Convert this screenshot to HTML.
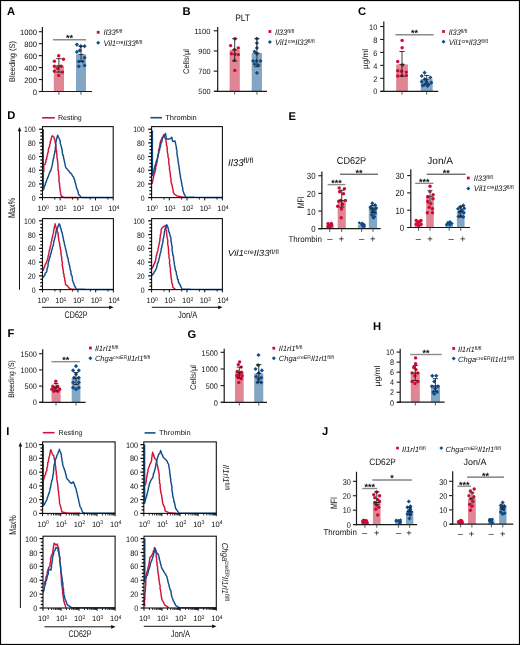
<!DOCTYPE html>
<html><head><meta charset="utf-8"><style>
html,body{margin:0;padding:0;background:#fff;}
svg{display:block;font-family:"Liberation Sans", sans-serif;filter:blur(0.3px);text-rendering:geometricPrecision;}
</style></head><body>
<svg width="520" height="645" viewBox="0 0 520 645">
<rect x="0" y="0" width="520" height="645" fill="#fff"/>
<text x="7" y="15.2" font-size="11.2" text-anchor="start" font-weight="bold" font-style="normal" fill="#000" >A</text>
<rect x="53.8" y="65.79" width="10.2" height="25.71" fill="#e08594"/>
<rect x="76" y="54.42" width="10" height="37.08" fill="#83a6c5"/>
<circle cx="58.7" cy="55.8" r="1.7" fill="#cf0a35"/>
<circle cx="54.4" cy="61.2" r="1.7" fill="#cf0a35"/>
<circle cx="63.5" cy="59.2" r="1.7" fill="#cf0a35"/>
<circle cx="54.4" cy="66.3" r="1.7" fill="#cf0a35"/>
<circle cx="61.2" cy="66.3" r="1.7" fill="#cf0a35"/>
<circle cx="57.7" cy="68.3" r="1.7" fill="#cf0a35"/>
<circle cx="54.4" cy="71.2" r="1.7" fill="#cf0a35"/>
<circle cx="62.5" cy="72.1" r="1.7" fill="#cf0a35"/>
<circle cx="58.7" cy="75.4" r="1.7" fill="#cf0a35"/>
<path d="M76.9 42.5L79 44.6L76.9 46.7L74.8 44.6Z" fill="#0f4c8c"/>
<path d="M80.8 44.1L82.9 46.2L80.8 48.3L78.7 46.2Z" fill="#0f4c8c"/>
<path d="M84.6 44.1L86.7 46.2L84.6 48.3L82.5 46.2Z" fill="#0f4c8c"/>
<path d="M76.9 49.8L79 51.9L76.9 54L74.8 51.9Z" fill="#0f4c8c"/>
<path d="M79.8 48.3L81.9 50.4L79.8 52.5L77.7 50.4Z" fill="#0f4c8c"/>
<path d="M84.6 55.6L86.7 57.7L84.6 59.8L82.5 57.7Z" fill="#0f4c8c"/>
<path d="M78.8 59.4L80.9 61.5L78.8 63.6L76.7 61.5Z" fill="#0f4c8c"/>
<path d="M82.7 59.4L84.8 61.5L82.7 63.6L80.6 61.5Z" fill="#0f4c8c"/>
<path d="M78.8 64.2L80.9 66.3L78.8 68.4L76.7 66.3Z" fill="#0f4c8c"/>
<path d="M84.6 63.3L86.7 65.4L84.6 67.5L82.5 65.4Z" fill="#0f4c8c"/>
<line x1="58.9" y1="58.6" x2="58.9" y2="72.1" stroke="#222" stroke-width="0.9"/>
<line x1="56.3" y1="58.6" x2="61.5" y2="58.6" stroke="#222" stroke-width="0.9"/>
<line x1="56.3" y1="72.1" x2="61.5" y2="72.1" stroke="#222" stroke-width="0.9"/>
<line x1="56.3" y1="65.79" x2="61.5" y2="65.79" stroke="#222" stroke-width="0.9"/>
<line x1="81" y1="46.2" x2="81" y2="61.5" stroke="#222" stroke-width="0.9"/>
<line x1="78.4" y1="46.2" x2="83.6" y2="46.2" stroke="#222" stroke-width="0.9"/>
<line x1="78.4" y1="61.5" x2="83.6" y2="61.5" stroke="#222" stroke-width="0.9"/>
<line x1="78.4" y1="54.42" x2="83.6" y2="54.42" stroke="#222" stroke-width="0.9"/>
<line x1="42.4" y1="27" x2="42.4" y2="92.1" stroke="#1a1a1a" stroke-width="1.2"/>
<line x1="38.8" y1="91.5" x2="42.4" y2="91.5" stroke="#1a1a1a" stroke-width="1.1"/>
<text x="36.9" y="94.61" font-size="7.8" text-anchor="end" font-weight="normal" font-style="normal" fill="#111" textLength="4.25" lengthAdjust="spacingAndGlyphs" >0</text>
<line x1="38.8" y1="79.54" x2="42.4" y2="79.54" stroke="#1a1a1a" stroke-width="1.1"/>
<text x="36.9" y="82.65" font-size="7.8" text-anchor="end" font-weight="normal" font-style="normal" fill="#111" textLength="12.75" lengthAdjust="spacingAndGlyphs" >200</text>
<line x1="38.8" y1="67.58" x2="42.4" y2="67.58" stroke="#1a1a1a" stroke-width="1.1"/>
<text x="36.9" y="70.69" font-size="7.8" text-anchor="end" font-weight="normal" font-style="normal" fill="#111" textLength="12.75" lengthAdjust="spacingAndGlyphs" >400</text>
<line x1="38.8" y1="55.62" x2="42.4" y2="55.62" stroke="#1a1a1a" stroke-width="1.1"/>
<text x="36.9" y="58.73" font-size="7.8" text-anchor="end" font-weight="normal" font-style="normal" fill="#111" textLength="12.75" lengthAdjust="spacingAndGlyphs" >600</text>
<line x1="38.8" y1="43.66" x2="42.4" y2="43.66" stroke="#1a1a1a" stroke-width="1.1"/>
<text x="36.9" y="46.77" font-size="7.8" text-anchor="end" font-weight="normal" font-style="normal" fill="#111" textLength="12.75" lengthAdjust="spacingAndGlyphs" >800</text>
<line x1="38.8" y1="31.7" x2="42.4" y2="31.7" stroke="#1a1a1a" stroke-width="1.1"/>
<text x="36.9" y="34.81" font-size="7.8" text-anchor="end" font-weight="normal" font-style="normal" fill="#111" textLength="17" lengthAdjust="spacingAndGlyphs" >1000</text>
<line x1="39.4" y1="91.5" x2="92" y2="91.5" stroke="#1a1a1a" stroke-width="1.2"/>
<line x1="58.9" y1="91.5" x2="58.9" y2="94.7" stroke="#444" stroke-width="0.9"/>
<line x1="81" y1="91.5" x2="81" y2="94.7" stroke="#444" stroke-width="0.9"/>
<line x1="52.9" y1="39.8" x2="86" y2="39.8" stroke="#8c8c8c" stroke-width="1.4"/>
<text x="69.45" y="41.2" font-size="9" text-anchor="middle" font-weight="bold" font-style="normal" fill="#111" >**</text>
<text x="12.2" y="64.37" font-size="8.2" text-anchor="middle" font-weight="normal" font-style="normal" fill="#111" textLength="41" lengthAdjust="spacingAndGlyphs" transform="rotate(-90 12.2 61.5)">Bleeding (S)</text>
<rect x="96.8" y="30.9" width="2.8" height="2.8" fill="#cf0a35"/>
<path d="M98.2 40.8L100.2 42.8L98.2 44.8L96.2 42.8Z" fill="#0f4c8c"/>
<text x="103.5" y="35.45" font-size="8" text-anchor="start" font-style="italic" fill="#111" textLength="19" lengthAdjust="spacingAndGlyphs" ><tspan>Il33</tspan><tspan dy="-2" font-size="5.44" font-style="normal">fl/fl</tspan></text>
<text x="103.5" y="45.8" font-size="8" text-anchor="start" font-style="italic" fill="#111" textLength="38.8" lengthAdjust="spacingAndGlyphs" ><tspan>Vil1</tspan><tspan dy="-2" font-size="5.44" font-style="normal">cre</tspan><tspan dy="2" font-size="8">Il33</tspan><tspan dy="-2" font-size="5.44" font-style="normal">fl/fl</tspan></text>
<text x="182.5" y="15.2" font-size="11.2" text-anchor="start" font-weight="bold" font-style="normal" fill="#000" >B</text>
<text x="242.6" y="21" font-size="9.4" text-anchor="middle" font-weight="normal" font-style="normal" fill="#111" textLength="14.8" lengthAdjust="spacingAndGlyphs" >PLT</text>
<rect x="229.6" y="49.8" width="10.2" height="41.5" fill="#e08594"/>
<rect x="251.7" y="53" width="10.3" height="38.3" fill="#83a6c5"/>
<circle cx="235" cy="38.7" r="1.7" fill="#cf0a35"/>
<circle cx="230.6" cy="45.6" r="1.7" fill="#cf0a35"/>
<circle cx="238.3" cy="47.9" r="1.7" fill="#cf0a35"/>
<circle cx="234.4" cy="49.8" r="1.7" fill="#cf0a35"/>
<circle cx="231.5" cy="53.7" r="1.7" fill="#cf0a35"/>
<circle cx="235" cy="54.2" r="1.7" fill="#cf0a35"/>
<circle cx="238.3" cy="54.6" r="1.7" fill="#cf0a35"/>
<circle cx="234.4" cy="60.4" r="1.7" fill="#cf0a35"/>
<circle cx="234.8" cy="70.4" r="1.7" fill="#cf0a35"/>
<path d="M256.9 36.6L259 38.7L256.9 40.8L254.8 38.7Z" fill="#0f4c8c"/>
<path d="M256.9 41L259 43.1L256.9 45.2L254.8 43.1Z" fill="#0f4c8c"/>
<path d="M256.9 45.8L259 47.9L256.9 50L254.8 47.9Z" fill="#0f4c8c"/>
<path d="M254.6 49.6L256.7 51.7L254.6 53.8L252.5 51.7Z" fill="#0f4c8c"/>
<path d="M256.9 51.6L259 53.7L256.9 55.8L254.8 53.7Z" fill="#0f4c8c"/>
<path d="M253.1 58.9L255.2 61L253.1 63.1L251 61Z" fill="#0f4c8c"/>
<path d="M256.5 58.9L258.6 61L256.5 63.1L254.4 61Z" fill="#0f4c8c"/>
<path d="M260.4 58.9L262.5 61L260.4 63.1L258.3 61Z" fill="#0f4c8c"/>
<path d="M254.6 62.1L256.7 64.2L254.6 66.3L252.5 64.2Z" fill="#0f4c8c"/>
<path d="M258.5 63.1L260.6 65.2L258.5 67.3L256.4 65.2Z" fill="#0f4c8c"/>
<path d="M256.9 70.8L259 72.9L256.9 75L254.8 72.9Z" fill="#0f4c8c"/>
<line x1="234.7" y1="38.7" x2="234.7" y2="61" stroke="#222" stroke-width="0.9"/>
<line x1="232.1" y1="38.7" x2="237.3" y2="38.7" stroke="#222" stroke-width="0.9"/>
<line x1="232.1" y1="61" x2="237.3" y2="61" stroke="#222" stroke-width="0.9"/>
<line x1="232.1" y1="49.8" x2="237.3" y2="49.8" stroke="#222" stroke-width="0.9"/>
<line x1="256.9" y1="38.7" x2="256.9" y2="66.7" stroke="#222" stroke-width="0.9"/>
<line x1="254.3" y1="38.7" x2="259.5" y2="38.7" stroke="#222" stroke-width="0.9"/>
<line x1="254.3" y1="66.7" x2="259.5" y2="66.7" stroke="#222" stroke-width="0.9"/>
<line x1="254.3" y1="53" x2="259.5" y2="53" stroke="#222" stroke-width="0.9"/>
<line x1="217.7" y1="27" x2="217.7" y2="91.9" stroke="#1a1a1a" stroke-width="1.2"/>
<line x1="213.7" y1="91.3" x2="217.7" y2="91.3" stroke="#1a1a1a" stroke-width="1.1"/>
<text x="210.6" y="94.34" font-size="7.6" text-anchor="end" font-weight="normal" font-style="normal" fill="#111" textLength="12.3" lengthAdjust="spacingAndGlyphs" >500</text>
<line x1="213.7" y1="71.13" x2="217.7" y2="71.13" stroke="#1a1a1a" stroke-width="1.1"/>
<text x="210.6" y="74.17" font-size="7.6" text-anchor="end" font-weight="normal" font-style="normal" fill="#111" textLength="12.3" lengthAdjust="spacingAndGlyphs" >700</text>
<line x1="213.7" y1="50.97" x2="217.7" y2="50.97" stroke="#1a1a1a" stroke-width="1.1"/>
<text x="210.6" y="54" font-size="7.6" text-anchor="end" font-weight="normal" font-style="normal" fill="#111" textLength="12.3" lengthAdjust="spacingAndGlyphs" >900</text>
<line x1="213.7" y1="30.8" x2="217.7" y2="30.8" stroke="#1a1a1a" stroke-width="1.1"/>
<text x="210.6" y="33.84" font-size="7.6" text-anchor="end" font-weight="normal" font-style="normal" fill="#111" textLength="16.4" lengthAdjust="spacingAndGlyphs" >1100</text>
<line x1="214.5" y1="91.3" x2="267" y2="91.3" stroke="#1a1a1a" stroke-width="1.2"/>
<line x1="234.7" y1="91.3" x2="234.7" y2="94.5" stroke="#444" stroke-width="0.9"/>
<line x1="256.9" y1="91.3" x2="256.9" y2="94.5" stroke="#444" stroke-width="0.9"/>
<text x="186" y="64.37" font-size="8.2" text-anchor="middle" font-weight="normal" font-style="normal" fill="#111" textLength="25" lengthAdjust="spacingAndGlyphs" transform="rotate(-90 186 61.5)">Cells/µl</text>
<rect x="268.5" y="30.1" width="2.8" height="2.8" fill="#cf0a35"/>
<path d="M269.9 40.1L271.9 42.1L269.9 44.1L267.9 42.1Z" fill="#0f4c8c"/>
<text x="275" y="34.65" font-size="8" text-anchor="start" font-style="italic" fill="#111" textLength="19" lengthAdjust="spacingAndGlyphs" ><tspan>Il33</tspan><tspan dy="-2" font-size="5.44" font-style="normal">fl/fl</tspan></text>
<text x="275" y="45.1" font-size="8" text-anchor="start" font-style="italic" fill="#111" textLength="39.6" lengthAdjust="spacingAndGlyphs" ><tspan>Vil1</tspan><tspan dy="-2" font-size="5.44" font-style="normal">cre</tspan><tspan dy="2" font-size="8">Il33</tspan><tspan dy="-2" font-size="5.44" font-style="normal">fl/fl</tspan></text>
<text x="358" y="15.2" font-size="11.2" text-anchor="start" font-weight="bold" font-style="normal" fill="#000" >C</text>
<rect x="396.2" y="64.4" width="11.7" height="26.9" fill="#e08594"/>
<rect x="420.8" y="79.2" width="11.9" height="12.1" fill="#83a6c5"/>
<circle cx="402.1" cy="40.4" r="1.7" fill="#cf0a35"/>
<circle cx="402.1" cy="47.7" r="1.7" fill="#cf0a35"/>
<circle cx="397.7" cy="61.5" r="1.7" fill="#cf0a35"/>
<circle cx="402.5" cy="65" r="1.7" fill="#cf0a35"/>
<circle cx="397.7" cy="70.8" r="1.7" fill="#cf0a35"/>
<circle cx="401.5" cy="71.2" r="1.7" fill="#cf0a35"/>
<circle cx="406.3" cy="72.1" r="1.7" fill="#cf0a35"/>
<circle cx="397.7" cy="76" r="1.7" fill="#cf0a35"/>
<circle cx="401.9" cy="75.6" r="1.7" fill="#cf0a35"/>
<circle cx="406.3" cy="75.6" r="1.7" fill="#cf0a35"/>
<path d="M424.6 70.6L426.7 72.7L424.6 74.8L422.5 72.7Z" fill="#0f4c8c"/>
<path d="M421.7 73.9L423.8 76L421.7 78.1L419.6 76Z" fill="#0f4c8c"/>
<path d="M430.4 75.4L432.5 77.5L430.4 79.6L428.3 77.5Z" fill="#0f4c8c"/>
<path d="M424.6 77.1L426.7 79.2L424.6 81.3L422.5 79.2Z" fill="#0f4c8c"/>
<path d="M421.7 79.6L423.8 81.7L421.7 83.8L419.6 81.7Z" fill="#0f4c8c"/>
<path d="M426.5 79.6L428.6 81.7L426.5 83.8L424.4 81.7Z" fill="#0f4c8c"/>
<path d="M431.3 80.6L433.4 82.7L431.3 84.8L429.2 82.7Z" fill="#0f4c8c"/>
<path d="M424.6 82.5L426.7 84.6L424.6 86.7L422.5 84.6Z" fill="#0f4c8c"/>
<path d="M428.5 82.5L430.6 84.6L428.5 86.7L426.4 84.6Z" fill="#0f4c8c"/>
<path d="M422.7 83.5L424.8 85.6L422.7 87.7L420.6 85.6Z" fill="#0f4c8c"/>
<path d="M427.5 83.9L429.6 86L427.5 88.1L425.4 86Z" fill="#0f4c8c"/>
<line x1="402" y1="51.5" x2="402" y2="76.3" stroke="#222" stroke-width="0.9"/>
<line x1="399.4" y1="51.5" x2="404.6" y2="51.5" stroke="#222" stroke-width="0.9"/>
<line x1="399.4" y1="76.3" x2="404.6" y2="76.3" stroke="#222" stroke-width="0.9"/>
<line x1="399.4" y1="64.4" x2="404.6" y2="64.4" stroke="#222" stroke-width="0.9"/>
<line x1="426.7" y1="75.4" x2="426.7" y2="84" stroke="#222" stroke-width="0.9"/>
<line x1="424.1" y1="75.4" x2="429.3" y2="75.4" stroke="#222" stroke-width="0.9"/>
<line x1="424.1" y1="84" x2="429.3" y2="84" stroke="#222" stroke-width="0.9"/>
<line x1="424.1" y1="79.2" x2="429.3" y2="79.2" stroke="#222" stroke-width="0.9"/>
<line x1="383.8" y1="21.5" x2="383.8" y2="91.9" stroke="#1a1a1a" stroke-width="1.2"/>
<line x1="380.2" y1="91.3" x2="383.8" y2="91.3" stroke="#1a1a1a" stroke-width="1.1"/>
<text x="377.3" y="94.48" font-size="8" text-anchor="end" font-weight="normal" font-style="normal" fill="#111" textLength="4.1" lengthAdjust="spacingAndGlyphs" >0</text>
<line x1="380.2" y1="78.34" x2="383.8" y2="78.34" stroke="#1a1a1a" stroke-width="1.1"/>
<text x="377.3" y="81.52" font-size="8" text-anchor="end" font-weight="normal" font-style="normal" fill="#111" textLength="4.1" lengthAdjust="spacingAndGlyphs" >2</text>
<line x1="380.2" y1="65.38" x2="383.8" y2="65.38" stroke="#1a1a1a" stroke-width="1.1"/>
<text x="377.3" y="68.56" font-size="8" text-anchor="end" font-weight="normal" font-style="normal" fill="#111" textLength="4.1" lengthAdjust="spacingAndGlyphs" >4</text>
<line x1="380.2" y1="52.42" x2="383.8" y2="52.42" stroke="#1a1a1a" stroke-width="1.1"/>
<text x="377.3" y="55.6" font-size="8" text-anchor="end" font-weight="normal" font-style="normal" fill="#111" textLength="4.1" lengthAdjust="spacingAndGlyphs" >6</text>
<line x1="380.2" y1="39.46" x2="383.8" y2="39.46" stroke="#1a1a1a" stroke-width="1.1"/>
<text x="377.3" y="42.64" font-size="8" text-anchor="end" font-weight="normal" font-style="normal" fill="#111" textLength="4.1" lengthAdjust="spacingAndGlyphs" >8</text>
<line x1="380.2" y1="26.5" x2="383.8" y2="26.5" stroke="#1a1a1a" stroke-width="1.1"/>
<text x="377.3" y="29.68" font-size="8" text-anchor="end" font-weight="normal" font-style="normal" fill="#111" textLength="8.2" lengthAdjust="spacingAndGlyphs" >10</text>
<line x1="380.4" y1="91.4" x2="438.3" y2="91.4" stroke="#1a1a1a" stroke-width="1.2"/>
<line x1="402" y1="91.4" x2="402" y2="94.6" stroke="#444" stroke-width="0.9"/>
<line x1="426.7" y1="91.4" x2="426.7" y2="94.6" stroke="#444" stroke-width="0.9"/>
<line x1="395.4" y1="34.8" x2="433.7" y2="34.8" stroke="#8c8c8c" stroke-width="1.4"/>
<text x="414.55" y="36.2" font-size="9" text-anchor="middle" font-weight="bold" font-style="normal" fill="#111" >**</text>
<text x="364.8" y="61.87" font-size="8.2" text-anchor="middle" font-weight="normal" font-style="normal" fill="#111" textLength="20" lengthAdjust="spacingAndGlyphs" transform="rotate(-90 364.8 59)">µg/ml</text>
<rect x="442.1" y="30.1" width="2.8" height="2.8" fill="#cf0a35"/>
<path d="M443.5 39.7L445.5 41.7L443.5 43.7L441.5 41.7Z" fill="#0f4c8c"/>
<text x="448.8" y="34.65" font-size="8" text-anchor="start" font-style="italic" fill="#111" textLength="18.5" lengthAdjust="spacingAndGlyphs" ><tspan>Il33</tspan><tspan dy="-2" font-size="5.44" font-style="normal">fl/fl</tspan></text>
<text x="448.8" y="44.7" font-size="8" text-anchor="start" font-style="italic" fill="#111" textLength="39" lengthAdjust="spacingAndGlyphs" ><tspan>Vil1</tspan><tspan dy="-2" font-size="5.44" font-style="normal">cre</tspan><tspan dy="2" font-size="8">Il33</tspan><tspan dy="-2" font-size="5.44" font-style="normal">fl/fl</tspan></text>
<text x="7.2" y="119.4" font-size="11.2" text-anchor="start" font-weight="bold" font-style="normal" fill="#000" >D</text>
<line x1="42.1" y1="117.8" x2="54.8" y2="117.8" stroke="#d2143c" stroke-width="1.6"/>
<text x="57.9" y="120" font-size="7.2" text-anchor="start" font-weight="normal" font-style="normal" fill="#111" textLength="23.9" lengthAdjust="spacingAndGlyphs" >Resting</text>
<line x1="150.4" y1="117.7" x2="162" y2="117.7" stroke="#104f8e" stroke-width="1.6"/>
<text x="165.2" y="119.9" font-size="7.3" text-anchor="start" font-weight="normal" font-style="normal" fill="#111" textLength="31.6" lengthAdjust="spacingAndGlyphs" >Thrombin</text>
<polyline points="43.8,172.3 43.8,170.9 43.8,169.5 43.8,168.1 43.8,166.7 43.8,165.3 45.3,164 45.58,162.46 46.01,160.95 46.02,159.49 46.57,159.38 46.85,157.84 46.89,156.37 47.44,155.45 47.65,153.04 48.16,152.53 48.3,151 48.39,150.16 48.74,147.9 49.08,147.6 49.6,146.43 49.63,144.61 50.23,143.7 50.26,141.66 50.6,140.67 51.07,140.18 51.2,138.2 51.93,136.43 52.4,135.8 54.2,137.6 54.39,139.28 55.11,140.43 55.03,141.93 55.68,144.33 55.9,145.2 55.88,146.24 56.08,148.03 56.1,149.55 56.62,150.71 56.44,152.37 56.61,152.75 56.95,155.34 56.9,156.25 56.95,157.51 57.35,158.86 57.47,160.48 57.61,161.11 57.7,163 57.98,164.93 58.08,165.93 57.92,166.25 58.04,167.75 58.04,169.91 58.43,170.89 58.6,171.73 58.51,173.84 58.61,174.39 58.99,175.94 58.91,177.72 59.18,178.39 58.92,179.74 59.06,182.05 59.32,182.62 59.64,183.99 59.5,185.3 59.91,186.84 59.7,187.6 60.29,189.82 60.21,190.79 60.48,192.02 60.64,193.71 60.99,194.66 61.2,196 62.4,196.7 63.6,197.4 64.99,197.42 66.38,197.44 67.77,197.45 69.16,197.47 70.55,197.49 71.95,197.51 73.34,197.53 74.73,197.55 76.12,197.56 77.51,197.58 78.9,197.6" fill="none" stroke="#d2143c" stroke-width="1.45" stroke-linejoin="round"/>
<polyline points="43.3,129.3 43.3,130.62 43.3,131.94 43.3,133.26 43.3,134.58 43.3,135.9 43.3,137.22 43.3,138.54 43.3,139.86 43.3,141.18 43.3,142.5 43.3,143.82 43.3,145.13 43.3,146.45 43.3,147.77 43.3,149.09 43.3,150.41 43.3,151.73 43.3,153.05 43.3,154.37 43.3,155.69 43.3,157.01 43.3,158.33 43.3,159.65 43.3,160.97 43.3,162.29 43.3,163.61 43.3,164.93 43.3,166.25 43.3,167.57 43.3,168.89 43.3,170.21 43.3,171.53 43.3,172.85 43.3,174.17 43.3,175.48 43.3,176.8 43.3,178.12 43.3,179.44 43.3,180.76 43.3,182.08 43.3,183.4 43.3,184.72 43.3,186.04 43.3,187.36 43.3,188.68 43.3,190 43.89,188.44 44.18,187.4 44.6,185.92 45.41,184.43 45.58,182.68 46.28,182.15 46.44,180.58 47.1,179.4 47.65,177.42 48.07,177.07 48.79,174.98 49.08,173.91 49.88,172.24 50.11,171.09 50.81,170.78 51.2,168.8 51.54,167.55 51.98,166.44 52.17,165.28 52.52,163.82 52.66,162.05 52.94,161.1 53.1,159.79 53.34,158.75 53.9,157.4 53.91,155.99 54.23,154.5 54.7,153.5 54.76,151.54 55.21,151.35 55.27,149.12 55.38,148.56 55.36,147.61 55.73,145.93 55.71,144.56 55.82,142.87 56.08,141.31 56.3,140.05 56.5,139.3 56.97,137.51 57.23,136.66 57.7,135.2 58.51,137.16 58.73,137.73 59.5,139.3 60.02,140.41 60.28,141.75 60.32,143.72 60.74,144.69 61.17,145.96 61.57,147.78 61.8,148.8 62.03,149.6 62.27,152.15 62.34,152.31 62.6,154.47 63.15,155.26 63.46,156.52 63.6,158.2 64.13,159.72 64.35,161.25 64.73,162.72 64.81,163.33 65.1,164.71 65.4,166.5 66.38,168.45 67.11,168.81 68.3,170.6 69.44,171.76 70.32,173.11 71.3,173.5 72.18,175.22 72.68,176.14 73.6,177.1 73.99,178.8 74.44,179.14 75.02,181.66 75.08,182.44 75.58,183.45 76,185.3 76.4,187.01 76.62,188.4 77.13,189.14 77.63,190.2 78.17,192.03 78.46,194.05 78.9,194.8 80.1,196.1 81.3,197.4 82.62,197.41 83.94,197.42 85.26,197.43 86.58,197.43 87.9,197.44 89.22,197.45 90.55,197.46 91.87,197.47 93.19,197.47 94.51,197.48 95.83,197.49 97.15,197.5 98.47,197.51 99.79,197.52 101.11,197.53 102.43,197.53 103.75,197.54 105.08,197.55 106.4,197.56 107.72,197.57 109.04,197.57 110.36,197.58 111.68,197.59 113,197.6" fill="none" stroke="#104f8e" stroke-width="1.45" stroke-linejoin="round"/>
<rect x="42.5" y="126.6" width="70.7" height="71" fill="none" stroke="#111" stroke-width="1.1"/>
<line x1="39.1" y1="197.6" x2="42.5" y2="197.6" stroke="#000" stroke-width="1.2"/>
<line x1="40.3" y1="194.18" x2="42.5" y2="194.18" stroke="#000" stroke-width="1.2"/>
<line x1="40.3" y1="190.76" x2="42.5" y2="190.76" stroke="#000" stroke-width="1.2"/>
<line x1="40.3" y1="187.34" x2="42.5" y2="187.34" stroke="#000" stroke-width="1.2"/>
<line x1="39.1" y1="183.92" x2="42.5" y2="183.92" stroke="#000" stroke-width="1.2"/>
<line x1="40.3" y1="180.5" x2="42.5" y2="180.5" stroke="#000" stroke-width="1.2"/>
<line x1="40.3" y1="177.08" x2="42.5" y2="177.08" stroke="#000" stroke-width="1.2"/>
<line x1="40.3" y1="173.66" x2="42.5" y2="173.66" stroke="#000" stroke-width="1.2"/>
<line x1="39.1" y1="170.24" x2="42.5" y2="170.24" stroke="#000" stroke-width="1.2"/>
<line x1="40.3" y1="166.82" x2="42.5" y2="166.82" stroke="#000" stroke-width="1.2"/>
<line x1="40.3" y1="163.4" x2="42.5" y2="163.4" stroke="#000" stroke-width="1.2"/>
<line x1="40.3" y1="159.98" x2="42.5" y2="159.98" stroke="#000" stroke-width="1.2"/>
<line x1="39.1" y1="156.56" x2="42.5" y2="156.56" stroke="#000" stroke-width="1.2"/>
<line x1="40.3" y1="153.14" x2="42.5" y2="153.14" stroke="#000" stroke-width="1.2"/>
<line x1="40.3" y1="149.72" x2="42.5" y2="149.72" stroke="#000" stroke-width="1.2"/>
<line x1="40.3" y1="146.3" x2="42.5" y2="146.3" stroke="#000" stroke-width="1.2"/>
<line x1="39.1" y1="142.88" x2="42.5" y2="142.88" stroke="#000" stroke-width="1.2"/>
<line x1="40.3" y1="139.46" x2="42.5" y2="139.46" stroke="#000" stroke-width="1.2"/>
<line x1="40.3" y1="136.04" x2="42.5" y2="136.04" stroke="#000" stroke-width="1.2"/>
<line x1="40.3" y1="132.62" x2="42.5" y2="132.62" stroke="#000" stroke-width="1.2"/>
<line x1="39.1" y1="129.2" x2="42.5" y2="129.2" stroke="#000" stroke-width="1.2"/>
<text x="35.6" y="200.63" font-size="8" text-anchor="end" font-weight="normal" font-style="normal" fill="#111" textLength="3.85" lengthAdjust="spacingAndGlyphs" >0</text>
<text x="35.6" y="186.95" font-size="8" text-anchor="end" font-weight="normal" font-style="normal" fill="#111" textLength="7.7" lengthAdjust="spacingAndGlyphs" >20</text>
<text x="35.6" y="173.27" font-size="8" text-anchor="end" font-weight="normal" font-style="normal" fill="#111" textLength="7.7" lengthAdjust="spacingAndGlyphs" >40</text>
<text x="35.6" y="159.59" font-size="8" text-anchor="end" font-weight="normal" font-style="normal" fill="#111" textLength="7.7" lengthAdjust="spacingAndGlyphs" >60</text>
<text x="35.6" y="145.91" font-size="8" text-anchor="end" font-weight="normal" font-style="normal" fill="#111" textLength="7.7" lengthAdjust="spacingAndGlyphs" >80</text>
<text x="35.6" y="132.23" font-size="8" text-anchor="end" font-weight="normal" font-style="normal" fill="#111" textLength="11.55" lengthAdjust="spacingAndGlyphs" >100</text>
<line x1="42.5" y1="197.6" x2="42.5" y2="200.4" stroke="#111" stroke-width="1"/>
<line x1="54.85" y1="197.6" x2="54.85" y2="199.6" stroke="#111" stroke-width="0.9"/>
<text x="43.1" y="210.9" font-size="7.8" text-anchor="middle" fill="#111" textLength="11.3" lengthAdjust="spacingAndGlyphs">10<tspan dy="-2.4" font-size="5.3">0</tspan></text>
<line x1="60.17" y1="197.6" x2="60.17" y2="200.4" stroke="#111" stroke-width="1"/>
<line x1="72.53" y1="197.6" x2="72.53" y2="199.6" stroke="#111" stroke-width="0.9"/>
<text x="60.77" y="210.9" font-size="7.8" text-anchor="middle" fill="#111" textLength="11.3" lengthAdjust="spacingAndGlyphs">10<tspan dy="-2.4" font-size="5.3">1</tspan></text>
<line x1="77.85" y1="197.6" x2="77.85" y2="200.4" stroke="#111" stroke-width="1"/>
<line x1="90.2" y1="197.6" x2="90.2" y2="199.6" stroke="#111" stroke-width="0.9"/>
<text x="78.45" y="210.9" font-size="7.8" text-anchor="middle" fill="#111" textLength="11.3" lengthAdjust="spacingAndGlyphs">10<tspan dy="-2.4" font-size="5.3">2</tspan></text>
<line x1="95.53" y1="197.6" x2="95.53" y2="200.4" stroke="#111" stroke-width="1"/>
<line x1="107.88" y1="197.6" x2="107.88" y2="199.6" stroke="#111" stroke-width="0.9"/>
<text x="96.12" y="210.9" font-size="7.8" text-anchor="middle" fill="#111" textLength="11.3" lengthAdjust="spacingAndGlyphs">10<tspan dy="-2.4" font-size="5.3">3</tspan></text>
<line x1="113.2" y1="197.6" x2="113.2" y2="200.4" stroke="#111" stroke-width="1"/>
<text x="113.8" y="210.9" font-size="7.8" text-anchor="middle" fill="#111" textLength="11.3" lengthAdjust="spacingAndGlyphs">10<tspan dy="-2.4" font-size="5.3">4</tspan></text>
<polyline points="151.9,184 152.48,182.3 152.62,180.79 152.96,179.75 153.35,178.34 153.44,176.89 153.84,175.84 154.29,173.95 154.87,173.06 154.85,172.16 155.4,170.2 155.74,168.59 155.61,167.15 155.85,165.72 156.46,165.49 156.54,163.72 156.85,162.67 157.15,161.77 157.2,159.58 157.42,159 157.7,157.62 157.97,156.06 158,154.6 158.41,153.9 158.5,152.37 158.68,149.8 159.09,148.54 159.53,147.88 159.55,146.04 159.98,144.75 159.96,143.41 160.44,142.66 160.6,140.8 161.34,139.89 161.93,137.85 162.63,137.19 162.98,136.58 163.7,134.7 164.2,136.01 164.79,137.54 165.38,138.46 165.8,139.9 166.12,140.87 166,141.83 166.55,143.89 166.32,145.08 166.88,145.85 167.14,147.35 167.33,148.47 167.09,149.61 167.29,150.93 167.52,153.03 167.84,153.78 167.93,154.94 168.06,157.24 168.4,158 168.8,158.89 168.65,161.07 168.8,162.17 168.82,163.55 169.03,164.4 169.37,166.05 169.59,167.62 169.41,168.19 169.59,170.26 169.94,170.89 170,173.16 170.32,173.4 170.38,175.06 170.48,177.19 170.86,177.86 171.1,179.42 171,180.6 171.14,182.5 171.48,183.49 171.75,184.27 172.26,185.86 172.48,187.73 172.86,189.07 173.15,189.91 173.17,192.02 173.5,192.7 174.51,194.34 175.83,194.97 177,196.1 178.3,196.33 179.6,196.57 180.9,196.8 182.2,197.03 183.5,197.27 184.8,197.5" fill="none" stroke="#d2143c" stroke-width="1.45" stroke-linejoin="round"/>
<polyline points="152.4,130.4 152.4,131.72 152.4,133.05 152.4,134.37 152.4,135.69 152.4,137.02 152.4,138.34 152.4,139.66 152.4,140.99 152.4,142.31 152.4,143.64 152.4,144.96 152.4,146.28 152.4,147.61 152.4,148.93 152.4,150.25 152.4,151.58 152.4,152.9 152.4,154.22 152.4,155.55 152.4,156.87 152.4,158.19 152.4,159.52 152.4,160.84 152.4,162.16 152.4,163.49 152.4,164.81 152.4,166.14 152.4,167.46 152.4,168.78 152.4,170.11 152.4,171.43 152.4,172.75 152.4,174.08 152.4,175.4 152.84,173.58 153.34,173.06 153.73,171.39 153.99,170.64 154.2,168.79 154.84,167.11 154.8,165.81 155.4,165 155.82,163.74 156.11,161.79 156.76,160.31 156.85,160.22 157.34,158.79 157.7,157.01 157.92,155.96 158.24,154.41 158.8,152.9 158.87,151.47 159.66,150.2 159.6,149.65 159.87,147.3 160.55,146.84 160.52,145.5 160.84,143.38 161.38,142.81 161.72,141.92 162.01,140.95 162.3,139 162.84,137.38 164.02,136.23 164.7,134.82 165.4,133.5 165.76,134.78 165.97,136.38 166.14,138.17 166.6,139 169.2,139 170.48,138.62 171.8,137.3 172.02,138.31 172.54,140.83 173,141.6 174.8,140.8 175.32,142.24 175.51,143.33 175.9,145.09 176.1,146 176.51,147.53 176.3,148.61 176.86,149.99 177.02,151.28 176.83,153 177.26,154.66 177.22,155.34 177.62,157.61 177.87,158.35 177.9,159.8 178.04,161.29 178.46,161.94 178.41,164.01 178.77,165.14 179.07,166.57 179.02,168.16 179.41,168.92 179.31,169.92 179.91,172.35 179.67,173.33 180.11,174.49 180.29,175.35 180.5,177.1 180.64,178.71 181.17,179.96 181.31,180.95 181.41,182.36 181.94,184.27 181.88,185.46 182.42,186.85 182.76,188.47 182.62,189.08 183.1,191 183.72,192.55 184.05,194.03 184.66,194.78 185.18,196.04 185.7,197.3 187.04,197.31 188.39,197.31 189.73,197.32 191.08,197.33 192.42,197.34 193.77,197.34 195.11,197.35 196.46,197.36 197.8,197.37 199.14,197.37 200.49,197.38 201.83,197.39 203.18,197.4 204.52,197.4 205.87,197.41 207.21,197.42 208.56,197.43 209.9,197.43 211.24,197.44 212.59,197.45 213.93,197.46 215.28,197.46 216.62,197.47 217.97,197.48 219.31,197.49 220.66,197.49 222,197.5" fill="none" stroke="#104f8e" stroke-width="1.45" stroke-linejoin="round"/>
<rect x="151.6" y="126.6" width="70.8" height="71" fill="none" stroke="#111" stroke-width="1.1"/>
<line x1="148.2" y1="197.6" x2="151.6" y2="197.6" stroke="#000" stroke-width="1.2"/>
<line x1="149.4" y1="194.18" x2="151.6" y2="194.18" stroke="#000" stroke-width="1.2"/>
<line x1="149.4" y1="190.76" x2="151.6" y2="190.76" stroke="#000" stroke-width="1.2"/>
<line x1="149.4" y1="187.34" x2="151.6" y2="187.34" stroke="#000" stroke-width="1.2"/>
<line x1="148.2" y1="183.92" x2="151.6" y2="183.92" stroke="#000" stroke-width="1.2"/>
<line x1="149.4" y1="180.5" x2="151.6" y2="180.5" stroke="#000" stroke-width="1.2"/>
<line x1="149.4" y1="177.08" x2="151.6" y2="177.08" stroke="#000" stroke-width="1.2"/>
<line x1="149.4" y1="173.66" x2="151.6" y2="173.66" stroke="#000" stroke-width="1.2"/>
<line x1="148.2" y1="170.24" x2="151.6" y2="170.24" stroke="#000" stroke-width="1.2"/>
<line x1="149.4" y1="166.82" x2="151.6" y2="166.82" stroke="#000" stroke-width="1.2"/>
<line x1="149.4" y1="163.4" x2="151.6" y2="163.4" stroke="#000" stroke-width="1.2"/>
<line x1="149.4" y1="159.98" x2="151.6" y2="159.98" stroke="#000" stroke-width="1.2"/>
<line x1="148.2" y1="156.56" x2="151.6" y2="156.56" stroke="#000" stroke-width="1.2"/>
<line x1="149.4" y1="153.14" x2="151.6" y2="153.14" stroke="#000" stroke-width="1.2"/>
<line x1="149.4" y1="149.72" x2="151.6" y2="149.72" stroke="#000" stroke-width="1.2"/>
<line x1="149.4" y1="146.3" x2="151.6" y2="146.3" stroke="#000" stroke-width="1.2"/>
<line x1="148.2" y1="142.88" x2="151.6" y2="142.88" stroke="#000" stroke-width="1.2"/>
<line x1="149.4" y1="139.46" x2="151.6" y2="139.46" stroke="#000" stroke-width="1.2"/>
<line x1="149.4" y1="136.04" x2="151.6" y2="136.04" stroke="#000" stroke-width="1.2"/>
<line x1="149.4" y1="132.62" x2="151.6" y2="132.62" stroke="#000" stroke-width="1.2"/>
<line x1="148.2" y1="129.2" x2="151.6" y2="129.2" stroke="#000" stroke-width="1.2"/>
<text x="144.7" y="200.63" font-size="8" text-anchor="end" font-weight="normal" font-style="normal" fill="#111" textLength="3.85" lengthAdjust="spacingAndGlyphs" >0</text>
<text x="144.7" y="186.95" font-size="8" text-anchor="end" font-weight="normal" font-style="normal" fill="#111" textLength="7.7" lengthAdjust="spacingAndGlyphs" >20</text>
<text x="144.7" y="173.27" font-size="8" text-anchor="end" font-weight="normal" font-style="normal" fill="#111" textLength="7.7" lengthAdjust="spacingAndGlyphs" >40</text>
<text x="144.7" y="159.59" font-size="8" text-anchor="end" font-weight="normal" font-style="normal" fill="#111" textLength="7.7" lengthAdjust="spacingAndGlyphs" >60</text>
<text x="144.7" y="145.91" font-size="8" text-anchor="end" font-weight="normal" font-style="normal" fill="#111" textLength="7.7" lengthAdjust="spacingAndGlyphs" >80</text>
<text x="144.7" y="132.23" font-size="8" text-anchor="end" font-weight="normal" font-style="normal" fill="#111" textLength="11.55" lengthAdjust="spacingAndGlyphs" >100</text>
<line x1="151.6" y1="197.6" x2="151.6" y2="200.4" stroke="#111" stroke-width="1"/>
<line x1="163.97" y1="197.6" x2="163.97" y2="199.6" stroke="#111" stroke-width="0.9"/>
<text x="152.2" y="210.9" font-size="7.8" text-anchor="middle" fill="#111" textLength="11.3" lengthAdjust="spacingAndGlyphs">10<tspan dy="-2.4" font-size="5.3">0</tspan></text>
<line x1="169.3" y1="197.6" x2="169.3" y2="200.4" stroke="#111" stroke-width="1"/>
<line x1="181.67" y1="197.6" x2="181.67" y2="199.6" stroke="#111" stroke-width="0.9"/>
<text x="169.9" y="210.9" font-size="7.8" text-anchor="middle" fill="#111" textLength="11.3" lengthAdjust="spacingAndGlyphs">10<tspan dy="-2.4" font-size="5.3">1</tspan></text>
<line x1="187" y1="197.6" x2="187" y2="200.4" stroke="#111" stroke-width="1"/>
<line x1="199.37" y1="197.6" x2="199.37" y2="199.6" stroke="#111" stroke-width="0.9"/>
<text x="187.6" y="210.9" font-size="7.8" text-anchor="middle" fill="#111" textLength="11.3" lengthAdjust="spacingAndGlyphs">10<tspan dy="-2.4" font-size="5.3">2</tspan></text>
<line x1="204.7" y1="197.6" x2="204.7" y2="200.4" stroke="#111" stroke-width="1"/>
<line x1="217.07" y1="197.6" x2="217.07" y2="199.6" stroke="#111" stroke-width="0.9"/>
<text x="205.3" y="210.9" font-size="7.8" text-anchor="middle" fill="#111" textLength="11.3" lengthAdjust="spacingAndGlyphs">10<tspan dy="-2.4" font-size="5.3">3</tspan></text>
<line x1="222.4" y1="197.6" x2="222.4" y2="200.4" stroke="#111" stroke-width="1"/>
<text x="223" y="210.9" font-size="7.8" text-anchor="middle" fill="#111" textLength="11.3" lengthAdjust="spacingAndGlyphs">10<tspan dy="-2.4" font-size="5.3">4</tspan></text>
<polyline points="42.8,270.6 43.53,269.99 43.75,267.72 44.25,267.37 44.93,265.62 45.68,263.61 46.08,263.39 46.54,261.68 47.3,260.2 47.51,259.52 48.06,257.2 48.01,256.86 48.53,254.62 48.68,253.9 49.05,252.68 49.23,251.05 49.63,249.55 50.03,249.25 50,247.93 50.28,246.6 50.77,244.76 51.1,243.36 51.09,242.08 51.6,241.1 51.8,240.03 51.98,238 52.58,237.17 52.66,235.31 53,234.48 53.3,233.42 53.62,231.87 53.61,230.28 54.12,229.32 54.31,227.67 54.46,226.38 54.82,225.4 55.1,223.8 55.51,225.82 55.83,226.64 56.26,228.09 56.9,229.67 57.31,231.07 57.7,232.5 58.1,233.16 58.27,235.18 58.23,236.58 58.39,237.24 58.71,238.47 58.78,240.2 59.23,242.08 59.6,243.25 59.82,243.48 59.64,245.33 60.29,247.2 60.3,248 60.47,249.76 60.84,250.29 60.91,251.34 60.92,253.19 61.22,255.2 61.52,256.37 61.56,257.1 61.79,257.74 61.66,259.95 62.12,261.62 62.28,262.05 62.45,263.13 62.2,265.4 62.44,265.62 62.66,267.15 62.9,268.8 63.18,269.55 63.42,271.76 63.32,273.23 63.79,273.74 64.07,275.11 63.96,276.69 64.63,277.66 64.69,279.07 64.71,280.27 65.25,281.63 65.45,283.21 65.5,284.4 66.65,285.46 67.77,286.12 68.72,287.62 69.8,288.7 71.1,288.9 72.4,289.1 73.7,289.3 75,289.5" fill="none" stroke="#d2143c" stroke-width="1.45" stroke-linejoin="round"/>
<polyline points="42.8,277.5 43.51,276.9 44.78,275.32 45.27,273 46.4,272.3 46.9,270.81 47,269.09 47.46,267.77 47.73,267.02 48.03,265.79 48.08,263.77 48.27,262.76 48.76,260.95 49,260.2 49.39,259 49.76,256.99 50.11,256.8 50.52,254.52 50.83,254.11 51.3,252.3 51.64,250.51 51.69,250.35 52.37,248.56 52.44,247.35 53.15,245.6 53.4,244.6 53.6,243.17 53.82,241.82 54.05,240.45 54.36,239.84 54.76,237.93 55.07,236.99 55.51,234.87 55.7,234.12 56,232.5 56.21,230.53 56.64,229.32 57.11,229.28 57.7,227.3 58.34,225.46 59.1,223.8 59.84,224.71 60.12,226.58 60.67,228.21 61.1,229 61.26,230.59 61.44,231.17 62.18,232.67 62.45,234.44 62.69,235.37 63.05,237.28 63.35,238.68 63.61,240.19 63.7,241.1 64.23,241.96 64.23,243.43 64.74,244.71 65.14,246.64 65.23,247.2 65.52,248.45 65.82,249.68 66.3,251.5 66.69,253.35 66.65,253.61 67.23,255.7 67.38,256.83 67.54,257.38 68.23,258.65 68.36,260.96 68.83,262.49 69,263.38 69.02,264.5 69.54,265.15 69.8,267.1 70.03,267.88 70.19,269.67 70.83,271.1 70.91,271.82 71.04,274.15 71.37,274.95 71.89,275.56 72.18,277.18 72.35,278.5 72.58,280.61 73.11,281.37 73.3,282.7 74.09,284.06 74.37,285.72 75.16,286.66 75.78,287.98 76.4,289.3 77.71,289.31 79.01,289.31 80.32,289.32 81.63,289.33 82.94,289.34 84.24,289.34 85.55,289.35 86.86,289.36 88.16,289.36 89.47,289.37 90.78,289.38 92.09,289.39 93.39,289.39 94.7,289.4 96.01,289.41 97.31,289.41 98.62,289.42 99.93,289.43 101.24,289.44 102.54,289.44 103.85,289.45 105.16,289.46 106.46,289.46 107.77,289.47 109.08,289.48 110.39,289.49 111.69,289.49 113,289.5" fill="none" stroke="#104f8e" stroke-width="1.45" stroke-linejoin="round"/>
<rect x="42.5" y="218.6" width="70.9" height="71" fill="none" stroke="#111" stroke-width="1.1"/>
<line x1="39.1" y1="289.6" x2="42.5" y2="289.6" stroke="#000" stroke-width="1.2"/>
<line x1="40.3" y1="286.16" x2="42.5" y2="286.16" stroke="#000" stroke-width="1.2"/>
<line x1="40.3" y1="282.72" x2="42.5" y2="282.72" stroke="#000" stroke-width="1.2"/>
<line x1="40.3" y1="279.28" x2="42.5" y2="279.28" stroke="#000" stroke-width="1.2"/>
<line x1="39.1" y1="275.84" x2="42.5" y2="275.84" stroke="#000" stroke-width="1.2"/>
<line x1="40.3" y1="272.4" x2="42.5" y2="272.4" stroke="#000" stroke-width="1.2"/>
<line x1="40.3" y1="268.96" x2="42.5" y2="268.96" stroke="#000" stroke-width="1.2"/>
<line x1="40.3" y1="265.52" x2="42.5" y2="265.52" stroke="#000" stroke-width="1.2"/>
<line x1="39.1" y1="262.08" x2="42.5" y2="262.08" stroke="#000" stroke-width="1.2"/>
<line x1="40.3" y1="258.64" x2="42.5" y2="258.64" stroke="#000" stroke-width="1.2"/>
<line x1="40.3" y1="255.2" x2="42.5" y2="255.2" stroke="#000" stroke-width="1.2"/>
<line x1="40.3" y1="251.76" x2="42.5" y2="251.76" stroke="#000" stroke-width="1.2"/>
<line x1="39.1" y1="248.32" x2="42.5" y2="248.32" stroke="#000" stroke-width="1.2"/>
<line x1="40.3" y1="244.88" x2="42.5" y2="244.88" stroke="#000" stroke-width="1.2"/>
<line x1="40.3" y1="241.44" x2="42.5" y2="241.44" stroke="#000" stroke-width="1.2"/>
<line x1="40.3" y1="238" x2="42.5" y2="238" stroke="#000" stroke-width="1.2"/>
<line x1="39.1" y1="234.56" x2="42.5" y2="234.56" stroke="#000" stroke-width="1.2"/>
<line x1="40.3" y1="231.12" x2="42.5" y2="231.12" stroke="#000" stroke-width="1.2"/>
<line x1="40.3" y1="227.68" x2="42.5" y2="227.68" stroke="#000" stroke-width="1.2"/>
<line x1="40.3" y1="224.24" x2="42.5" y2="224.24" stroke="#000" stroke-width="1.2"/>
<line x1="39.1" y1="220.8" x2="42.5" y2="220.8" stroke="#000" stroke-width="1.2"/>
<text x="35.6" y="292.63" font-size="8" text-anchor="end" font-weight="normal" font-style="normal" fill="#111" textLength="3.85" lengthAdjust="spacingAndGlyphs" >0</text>
<text x="35.6" y="278.87" font-size="8" text-anchor="end" font-weight="normal" font-style="normal" fill="#111" textLength="7.7" lengthAdjust="spacingAndGlyphs" >20</text>
<text x="35.6" y="265.11" font-size="8" text-anchor="end" font-weight="normal" font-style="normal" fill="#111" textLength="7.7" lengthAdjust="spacingAndGlyphs" >40</text>
<text x="35.6" y="251.35" font-size="8" text-anchor="end" font-weight="normal" font-style="normal" fill="#111" textLength="7.7" lengthAdjust="spacingAndGlyphs" >60</text>
<text x="35.6" y="237.59" font-size="8" text-anchor="end" font-weight="normal" font-style="normal" fill="#111" textLength="7.7" lengthAdjust="spacingAndGlyphs" >80</text>
<text x="35.6" y="223.83" font-size="8" text-anchor="end" font-weight="normal" font-style="normal" fill="#111" textLength="11.55" lengthAdjust="spacingAndGlyphs" >100</text>
<line x1="42.5" y1="289.6" x2="42.5" y2="292.4" stroke="#111" stroke-width="1"/>
<line x1="54.89" y1="289.6" x2="54.89" y2="291.6" stroke="#111" stroke-width="0.9"/>
<text x="43.1" y="302.9" font-size="7.8" text-anchor="middle" fill="#111" textLength="11.3" lengthAdjust="spacingAndGlyphs">10<tspan dy="-2.4" font-size="5.3">0</tspan></text>
<line x1="60.23" y1="289.6" x2="60.23" y2="292.4" stroke="#111" stroke-width="1"/>
<line x1="72.61" y1="289.6" x2="72.61" y2="291.6" stroke="#111" stroke-width="0.9"/>
<text x="60.83" y="302.9" font-size="7.8" text-anchor="middle" fill="#111" textLength="11.3" lengthAdjust="spacingAndGlyphs">10<tspan dy="-2.4" font-size="5.3">1</tspan></text>
<line x1="77.95" y1="289.6" x2="77.95" y2="292.4" stroke="#111" stroke-width="1"/>
<line x1="90.34" y1="289.6" x2="90.34" y2="291.6" stroke="#111" stroke-width="0.9"/>
<text x="78.55" y="302.9" font-size="7.8" text-anchor="middle" fill="#111" textLength="11.3" lengthAdjust="spacingAndGlyphs">10<tspan dy="-2.4" font-size="5.3">2</tspan></text>
<line x1="95.68" y1="289.6" x2="95.68" y2="292.4" stroke="#111" stroke-width="1"/>
<line x1="108.06" y1="289.6" x2="108.06" y2="291.6" stroke="#111" stroke-width="0.9"/>
<text x="96.28" y="302.9" font-size="7.8" text-anchor="middle" fill="#111" textLength="11.3" lengthAdjust="spacingAndGlyphs">10<tspan dy="-2.4" font-size="5.3">3</tspan></text>
<line x1="113.4" y1="289.6" x2="113.4" y2="292.4" stroke="#111" stroke-width="1"/>
<text x="114" y="302.9" font-size="7.8" text-anchor="middle" fill="#111" textLength="11.3" lengthAdjust="spacingAndGlyphs">10<tspan dy="-2.4" font-size="5.3">4</tspan></text>
<polyline points="151.9,268.8 152.46,267.06 153.2,266.84 153.65,264.76 154.5,263.6 154.68,262.51 155.33,261.51 155.77,259.08 156.11,257.54 156.04,256.01 156.83,255.25 156.74,254.48 157.21,252.4 157.86,250.72 158,249.8 158.15,248.12 158.47,247.46 158.65,245.87 159.27,243.97 159.39,243 159.7,241.1 159.95,239.82 159.86,238.37 160.3,237.67 160.24,235.36 160.83,234.06 160.99,232.8 161.15,232.37 161.02,230.79 161.4,229 162.6,227.3 164,226.4 165.4,225.6 165.56,227.13 165.95,228.91 166.13,230.4 166.49,230.65 166.54,233.17 166.58,233.71 166.94,235.93 167.11,237.18 167.45,238.69 167.5,239.4 167.83,240.51 167.7,241.92 167.72,244.05 167.99,245.39 168.27,246.44 168.32,247.61 168.54,249.26 168.45,250.18 168.71,251.01 168.5,253.42 168.88,253.91 168.98,255.46 168.98,256.78 169.2,258.4 169.45,259.29 169.7,260.44 169.42,263.05 169.61,263.86 169.91,265.61 169.9,266.67 170.32,267.49 170.41,268.53 170.5,269.87 170.35,271.82 170.79,273.3 170.76,274.04 171,275.7 171.12,277.79 171.22,278.51 171.64,280.26 171.63,281.63 171.83,282.74 172.42,284.15 172.6,285.2 172.7,287 174,288.2 175.3,289.4" fill="none" stroke="#d2143c" stroke-width="1.45" stroke-linejoin="round"/>
<polyline points="151.9,275.7 152.68,273.99 153.65,273.79 154.33,271.74 155.4,270.6 155.66,269.59 156.38,268.67 156.9,266.32 157.31,264.86 157.32,263.41 158.18,262.73 158.16,262.04 158.8,260.2 159,258.74 159.6,257.14 159.55,256.07 159.87,255.56 160.06,254.12 160.69,252.37 160.81,251.55 161.2,249.87 161.21,248.46 161.75,247.81 161.79,245.53 162.3,244.6 162.7,242.98 162.89,241.77 163.08,241.38 162.98,239.84 163.33,238.25 163.73,237.35 163.92,236.16 164.28,233.73 164.34,233.57 164.38,231.43 164.75,230.97 164.9,229 165.5,228.11 166.2,226.8 166.6,224.7 167.41,225.89 167.76,227.37 168.4,229 168.58,230.88 169.06,232.16 169.54,233.16 169.79,234.26 170.22,235.86 170.33,236.73 170.79,237.49 171,239.4 170.96,241.23 171.38,241.77 171.53,243.35 171.58,244.7 171.96,245.91 172.24,247.12 172,249.79 172.22,250.66 172.55,252.46 172.7,253.3 172.79,254.88 173.28,255.66 173.45,256.66 173.62,257.96 173.55,259.87 174.07,261.31 174.12,262.01 174.34,264.31 174.44,264.91 174.87,266.54 174.86,267.79 175.3,268.8 175.38,270.04 176.06,271.31 176.34,272.21 176.44,274.41 176.85,275.59 177.22,276.1 177.33,278.19 177.67,279.3 178.24,279.63 178.3,281.67 178.7,282.7 179.24,283.49 180.14,284.73 180.8,286.66 181.5,287.98 182.2,289.3 183.53,289.31 184.85,289.31 186.18,289.32 187.51,289.33 188.83,289.33 190.16,289.34 191.49,289.35 192.81,289.35 194.14,289.36 195.47,289.37 196.79,289.37 198.12,289.38 199.45,289.39 200.77,289.39 202.1,289.4 203.43,289.41 204.75,289.41 206.08,289.42 207.41,289.43 208.73,289.43 210.06,289.44 211.39,289.45 212.71,289.45 214.04,289.46 215.37,289.47 216.69,289.47 218.02,289.48 219.35,289.49 220.67,289.49 222,289.5" fill="none" stroke="#104f8e" stroke-width="1.45" stroke-linejoin="round"/>
<rect x="151.6" y="218.6" width="70.8" height="71" fill="none" stroke="#111" stroke-width="1.1"/>
<line x1="148.2" y1="289.6" x2="151.6" y2="289.6" stroke="#000" stroke-width="1.2"/>
<line x1="149.4" y1="286.16" x2="151.6" y2="286.16" stroke="#000" stroke-width="1.2"/>
<line x1="149.4" y1="282.72" x2="151.6" y2="282.72" stroke="#000" stroke-width="1.2"/>
<line x1="149.4" y1="279.28" x2="151.6" y2="279.28" stroke="#000" stroke-width="1.2"/>
<line x1="148.2" y1="275.84" x2="151.6" y2="275.84" stroke="#000" stroke-width="1.2"/>
<line x1="149.4" y1="272.4" x2="151.6" y2="272.4" stroke="#000" stroke-width="1.2"/>
<line x1="149.4" y1="268.96" x2="151.6" y2="268.96" stroke="#000" stroke-width="1.2"/>
<line x1="149.4" y1="265.52" x2="151.6" y2="265.52" stroke="#000" stroke-width="1.2"/>
<line x1="148.2" y1="262.08" x2="151.6" y2="262.08" stroke="#000" stroke-width="1.2"/>
<line x1="149.4" y1="258.64" x2="151.6" y2="258.64" stroke="#000" stroke-width="1.2"/>
<line x1="149.4" y1="255.2" x2="151.6" y2="255.2" stroke="#000" stroke-width="1.2"/>
<line x1="149.4" y1="251.76" x2="151.6" y2="251.76" stroke="#000" stroke-width="1.2"/>
<line x1="148.2" y1="248.32" x2="151.6" y2="248.32" stroke="#000" stroke-width="1.2"/>
<line x1="149.4" y1="244.88" x2="151.6" y2="244.88" stroke="#000" stroke-width="1.2"/>
<line x1="149.4" y1="241.44" x2="151.6" y2="241.44" stroke="#000" stroke-width="1.2"/>
<line x1="149.4" y1="238" x2="151.6" y2="238" stroke="#000" stroke-width="1.2"/>
<line x1="148.2" y1="234.56" x2="151.6" y2="234.56" stroke="#000" stroke-width="1.2"/>
<line x1="149.4" y1="231.12" x2="151.6" y2="231.12" stroke="#000" stroke-width="1.2"/>
<line x1="149.4" y1="227.68" x2="151.6" y2="227.68" stroke="#000" stroke-width="1.2"/>
<line x1="149.4" y1="224.24" x2="151.6" y2="224.24" stroke="#000" stroke-width="1.2"/>
<line x1="148.2" y1="220.8" x2="151.6" y2="220.8" stroke="#000" stroke-width="1.2"/>
<text x="144.7" y="292.63" font-size="8" text-anchor="end" font-weight="normal" font-style="normal" fill="#111" textLength="3.85" lengthAdjust="spacingAndGlyphs" >0</text>
<text x="144.7" y="278.87" font-size="8" text-anchor="end" font-weight="normal" font-style="normal" fill="#111" textLength="7.7" lengthAdjust="spacingAndGlyphs" >20</text>
<text x="144.7" y="265.11" font-size="8" text-anchor="end" font-weight="normal" font-style="normal" fill="#111" textLength="7.7" lengthAdjust="spacingAndGlyphs" >40</text>
<text x="144.7" y="251.35" font-size="8" text-anchor="end" font-weight="normal" font-style="normal" fill="#111" textLength="7.7" lengthAdjust="spacingAndGlyphs" >60</text>
<text x="144.7" y="237.59" font-size="8" text-anchor="end" font-weight="normal" font-style="normal" fill="#111" textLength="7.7" lengthAdjust="spacingAndGlyphs" >80</text>
<text x="144.7" y="223.83" font-size="8" text-anchor="end" font-weight="normal" font-style="normal" fill="#111" textLength="11.55" lengthAdjust="spacingAndGlyphs" >100</text>
<line x1="151.6" y1="289.6" x2="151.6" y2="292.4" stroke="#111" stroke-width="1"/>
<line x1="163.97" y1="289.6" x2="163.97" y2="291.6" stroke="#111" stroke-width="0.9"/>
<text x="152.2" y="302.9" font-size="7.8" text-anchor="middle" fill="#111" textLength="11.3" lengthAdjust="spacingAndGlyphs">10<tspan dy="-2.4" font-size="5.3">0</tspan></text>
<line x1="169.3" y1="289.6" x2="169.3" y2="292.4" stroke="#111" stroke-width="1"/>
<line x1="181.67" y1="289.6" x2="181.67" y2="291.6" stroke="#111" stroke-width="0.9"/>
<text x="169.9" y="302.9" font-size="7.8" text-anchor="middle" fill="#111" textLength="11.3" lengthAdjust="spacingAndGlyphs">10<tspan dy="-2.4" font-size="5.3">1</tspan></text>
<line x1="187" y1="289.6" x2="187" y2="292.4" stroke="#111" stroke-width="1"/>
<line x1="199.37" y1="289.6" x2="199.37" y2="291.6" stroke="#111" stroke-width="0.9"/>
<text x="187.6" y="302.9" font-size="7.8" text-anchor="middle" fill="#111" textLength="11.3" lengthAdjust="spacingAndGlyphs">10<tspan dy="-2.4" font-size="5.3">2</tspan></text>
<line x1="204.7" y1="289.6" x2="204.7" y2="292.4" stroke="#111" stroke-width="1"/>
<line x1="217.07" y1="289.6" x2="217.07" y2="291.6" stroke="#111" stroke-width="0.9"/>
<text x="205.3" y="302.9" font-size="7.8" text-anchor="middle" fill="#111" textLength="11.3" lengthAdjust="spacingAndGlyphs">10<tspan dy="-2.4" font-size="5.3">3</tspan></text>
<line x1="222.4" y1="289.6" x2="222.4" y2="292.4" stroke="#111" stroke-width="1"/>
<text x="223" y="302.9" font-size="7.8" text-anchor="middle" fill="#111" textLength="11.3" lengthAdjust="spacingAndGlyphs">10<tspan dy="-2.4" font-size="5.3">4</tspan></text>
<line x1="19.5" y1="130" x2="19.5" y2="289.7" stroke="#111" stroke-width="1"/>
<path d="M19.5 127L21.3 131.2L17.7 131.2Z" fill="#111"/>
<text x="11.7" y="211.33" font-size="9.8" text-anchor="middle" font-weight="normal" font-style="normal" fill="#111" textLength="20" lengthAdjust="spacingAndGlyphs" transform="rotate(-90 11.7 207.9)">Max%</text>
<line x1="42" y1="307.3" x2="110.6" y2="307.3" stroke="#111" stroke-width="1"/>
<path d="M113.6 307.3L109.2 305.4L109.2 309.2Z" fill="#111"/>
<line x1="151.8" y1="307.3" x2="219.6" y2="307.3" stroke="#111" stroke-width="1"/>
<path d="M222.6 307.3L218.2 305.4L218.2 309.2Z" fill="#111"/>
<text x="76.1" y="318.1" font-size="9.6" text-anchor="middle" font-weight="normal" font-style="normal" fill="#111" textLength="23" lengthAdjust="spacingAndGlyphs" >CD62P</text>
<text x="187.7" y="318.3" font-size="9.6" text-anchor="middle" font-weight="normal" font-style="normal" fill="#111" textLength="19.4" lengthAdjust="spacingAndGlyphs" >Jon/A</text>
<text x="228" y="165.8" font-size="9.8" text-anchor="start" font-style="italic" fill="#111" textLength="25.2" lengthAdjust="spacingAndGlyphs" ><tspan>Il33</tspan><tspan dy="-2.94" font-size="7.64" font-style="normal">fl/fl</tspan></text>
<text x="227.8" y="256.4" font-size="8.8" text-anchor="start" font-style="italic" fill="#111" textLength="51" lengthAdjust="spacingAndGlyphs" ><tspan>Vil1</tspan><tspan dy="-2.64" font-size="6.34" font-style="normal">cre</tspan><tspan dy="2.64" font-size="8.8">Il33</tspan><tspan dy="-2.64" font-size="6.34" font-style="normal">fl/fl</tspan></text>
<text x="288.5" y="120.2" font-size="11.2" text-anchor="start" font-weight="bold" font-style="normal" fill="#000" >E</text>
<text x="351.5" y="163.7" font-size="10" text-anchor="middle" font-weight="normal" font-style="normal" fill="#111" textLength="29.4" lengthAdjust="spacingAndGlyphs" >CD62P</text>
<rect x="326.2" y="225.17" width="7.6" height="3.53" fill="#e08594"/>
<rect x="337.7" y="200.4" width="8.1" height="28.3" fill="#e08594"/>
<rect x="357.9" y="224.64" width="7.7" height="4.06" fill="#83a6c5"/>
<rect x="368.8" y="208" width="8.3" height="20.7" fill="#83a6c5"/>
<circle cx="328.17" cy="226.47" r="1.7" fill="#cf0a35"/>
<circle cx="331.32" cy="224.39" r="1.7" fill="#cf0a35"/>
<circle cx="329.98" cy="225.07" r="1.7" fill="#cf0a35"/>
<circle cx="330.76" cy="226.26" r="1.7" fill="#cf0a35"/>
<circle cx="327.97" cy="223.6" r="1.7" fill="#cf0a35"/>
<circle cx="331.68" cy="225.01" r="1.7" fill="#cf0a35"/>
<circle cx="331.31" cy="223.51" r="1.7" fill="#cf0a35"/>
<circle cx="329.73" cy="226.03" r="1.7" fill="#cf0a35"/>
<circle cx="328.64" cy="226.81" r="1.7" fill="#cf0a35"/>
<circle cx="339.2" cy="187.9" r="1.7" fill="#cf0a35"/>
<circle cx="344.4" cy="188.8" r="1.7" fill="#cf0a35"/>
<circle cx="339.6" cy="191.7" r="1.7" fill="#cf0a35"/>
<circle cx="343.5" cy="193.7" r="1.7" fill="#cf0a35"/>
<circle cx="340.6" cy="200.4" r="1.7" fill="#cf0a35"/>
<circle cx="345.4" cy="200.4" r="1.7" fill="#cf0a35"/>
<circle cx="338.7" cy="201.3" r="1.7" fill="#cf0a35"/>
<circle cx="342.5" cy="204.2" r="1.7" fill="#cf0a35"/>
<circle cx="337.7" cy="206.2" r="1.7" fill="#cf0a35"/>
<circle cx="341.5" cy="209" r="1.7" fill="#cf0a35"/>
<circle cx="341.2" cy="217.7" r="1.7" fill="#cf0a35"/>
<path d="M364.26 224.59L365.96 226.29L364.26 227.99L362.56 226.29Z" fill="#0f4c8c"/>
<path d="M359.31 221.14L361.01 222.84L359.31 224.54L357.61 222.84Z" fill="#0f4c8c"/>
<path d="M363.6 223.74L365.3 225.44L363.6 227.14L361.9 225.44Z" fill="#0f4c8c"/>
<path d="M362.68 222.03L364.38 223.73L362.68 225.43L360.98 223.73Z" fill="#0f4c8c"/>
<path d="M362.33 223.23L364.03 224.93L362.33 226.63L360.63 224.93Z" fill="#0f4c8c"/>
<path d="M362.2 221.43L363.9 223.13L362.2 224.83L360.5 223.13Z" fill="#0f4c8c"/>
<path d="M361.37 222.37L363.07 224.07L361.37 225.77L359.67 224.07Z" fill="#0f4c8c"/>
<path d="M362.98 224.78L364.68 226.48L362.98 228.18L361.28 226.48Z" fill="#0f4c8c"/>
<path d="M364.22 222.98L365.92 224.68L364.22 226.38L362.52 224.68Z" fill="#0f4c8c"/>
<path d="M372.3 201.2L374.4 203.3L372.3 205.4L370.2 203.3Z" fill="#0f4c8c"/>
<path d="M375.2 203.1L377.3 205.2L375.2 207.3L373.1 205.2Z" fill="#0f4c8c"/>
<path d="M370.4 205L372.5 207.1L370.4 209.2L368.3 207.1Z" fill="#0f4c8c"/>
<path d="M376.2 206L378.3 208.1L376.2 210.2L374.1 208.1Z" fill="#0f4c8c"/>
<path d="M371.3 206.9L373.4 209L371.3 211.1L369.2 209Z" fill="#0f4c8c"/>
<path d="M374.2 207.9L376.3 210L374.2 212.1L372.1 210Z" fill="#0f4c8c"/>
<path d="M372.3 209.8L374.4 211.9L372.3 214L370.2 211.9Z" fill="#0f4c8c"/>
<path d="M375.2 210.8L377.3 212.9L375.2 215L373.1 212.9Z" fill="#0f4c8c"/>
<path d="M371.9 212.7L374 214.8L371.9 216.9L369.8 214.8Z" fill="#0f4c8c"/>
<path d="M374.2 214.6L376.3 216.7L374.2 218.8L372.1 216.7Z" fill="#0f4c8c"/>
<path d="M373.3 215.6L375.4 217.7L373.3 219.8L371.2 217.7Z" fill="#0f4c8c"/>
<line x1="341.7" y1="190.2" x2="341.7" y2="207.1" stroke="#222" stroke-width="0.9"/>
<line x1="339.1" y1="190.2" x2="344.3" y2="190.2" stroke="#222" stroke-width="0.9"/>
<line x1="339.1" y1="207.1" x2="344.3" y2="207.1" stroke="#222" stroke-width="0.9"/>
<line x1="339.1" y1="200.4" x2="344.3" y2="200.4" stroke="#222" stroke-width="0.9"/>
<line x1="373" y1="205.5" x2="373" y2="212.5" stroke="#222" stroke-width="0.9"/>
<line x1="370.8" y1="205.5" x2="375.2" y2="205.5" stroke="#222" stroke-width="0.9"/>
<line x1="370.8" y1="212.5" x2="375.2" y2="212.5" stroke="#222" stroke-width="0.9"/>
<line x1="370.4" y1="208" x2="375.6" y2="208" stroke="#222" stroke-width="0.9"/>
<line x1="321.9" y1="171.5" x2="321.9" y2="229.3" stroke="#1a1a1a" stroke-width="1.2"/>
<line x1="318.3" y1="228.7" x2="321.9" y2="228.7" stroke="#1a1a1a" stroke-width="1.1"/>
<text x="315.5" y="232.24" font-size="9" text-anchor="end" font-weight="normal" font-style="normal" fill="#111" textLength="4.35" lengthAdjust="spacingAndGlyphs" >0</text>
<line x1="318.3" y1="211.05" x2="321.9" y2="211.05" stroke="#1a1a1a" stroke-width="1.1"/>
<text x="315.5" y="214.59" font-size="9" text-anchor="end" font-weight="normal" font-style="normal" fill="#111" textLength="8.7" lengthAdjust="spacingAndGlyphs" >10</text>
<line x1="318.3" y1="193.4" x2="321.9" y2="193.4" stroke="#1a1a1a" stroke-width="1.1"/>
<text x="315.5" y="196.94" font-size="9" text-anchor="end" font-weight="normal" font-style="normal" fill="#111" textLength="8.7" lengthAdjust="spacingAndGlyphs" >20</text>
<line x1="318.3" y1="175.75" x2="321.9" y2="175.75" stroke="#1a1a1a" stroke-width="1.1"/>
<text x="315.5" y="179.29" font-size="9" text-anchor="end" font-weight="normal" font-style="normal" fill="#111" textLength="8.7" lengthAdjust="spacingAndGlyphs" >30</text>
<line x1="318.5" y1="228.7" x2="380.6" y2="228.7" stroke="#1a1a1a" stroke-width="1.2"/>
<line x1="329.8" y1="228.7" x2="329.8" y2="231.9" stroke="#444" stroke-width="0.9"/>
<line x1="341.7" y1="228.7" x2="341.7" y2="231.9" stroke="#444" stroke-width="0.9"/>
<line x1="361.6" y1="228.7" x2="361.6" y2="231.9" stroke="#444" stroke-width="0.9"/>
<line x1="373" y1="228.7" x2="373" y2="231.9" stroke="#444" stroke-width="0.9"/>
<line x1="327.7" y1="184.6" x2="345.4" y2="184.6" stroke="#8c8c8c" stroke-width="1.4"/>
<text x="336.55" y="186" font-size="9" text-anchor="middle" font-weight="bold" font-style="normal" fill="#111" >***</text>
<line x1="340" y1="174.2" x2="378" y2="174.2" stroke="#333" stroke-width="1"/>
<text x="359" y="175.6" font-size="9" text-anchor="middle" font-weight="bold" font-style="normal" fill="#111" >**</text>
<text x="300.6" y="205.49" font-size="9.4" text-anchor="middle" font-weight="normal" font-style="normal" fill="#111" textLength="12" lengthAdjust="spacingAndGlyphs" transform="rotate(-90 300.6 202.2)">MFI</text>
<text x="329.8" y="242" font-size="9.5" text-anchor="middle" font-weight="normal" font-style="normal" fill="#111" >–</text>
<text x="341.2" y="242" font-size="9.5" text-anchor="middle" font-weight="normal" font-style="normal" fill="#111" >+</text>
<text x="361.6" y="242" font-size="9.5" text-anchor="middle" font-weight="normal" font-style="normal" fill="#111" >–</text>
<text x="372.9" y="242" font-size="9.5" text-anchor="middle" font-weight="normal" font-style="normal" fill="#111" >+</text>
<text x="288.4" y="241.5" font-size="8.5" text-anchor="start" font-weight="normal" font-style="normal" fill="#111" textLength="33.6" lengthAdjust="spacingAndGlyphs" >Thrombin</text>
<text x="440.2" y="163.7" font-size="10" text-anchor="middle" font-weight="normal" font-style="normal" fill="#111" textLength="25.8" lengthAdjust="spacingAndGlyphs" >Jon/A</text>
<rect x="414.6" y="222.31" width="7.7" height="5.19" fill="#e08594"/>
<rect x="426.2" y="196.2" width="7.6" height="31.3" fill="#e08594"/>
<rect x="445.4" y="223" width="7.6" height="4.5" fill="#83a6c5"/>
<rect x="456.9" y="211.5" width="7.7" height="16" fill="#83a6c5"/>
<circle cx="416.2" cy="220.4" r="1.7" fill="#cf0a35"/>
<circle cx="421" cy="220.4" r="1.7" fill="#cf0a35"/>
<circle cx="418.1" cy="222.3" r="1.7" fill="#cf0a35"/>
<circle cx="416.2" cy="224.2" r="1.7" fill="#cf0a35"/>
<circle cx="421" cy="224.2" r="1.7" fill="#cf0a35"/>
<circle cx="418.5" cy="225.6" r="1.7" fill="#cf0a35"/>
<circle cx="419.5" cy="221.5" r="1.7" fill="#cf0a35"/>
<circle cx="430" cy="186.2" r="1.7" fill="#cf0a35"/>
<circle cx="430" cy="191.5" r="1.7" fill="#cf0a35"/>
<circle cx="433.1" cy="194.8" r="1.7" fill="#cf0a35"/>
<circle cx="427.7" cy="196.7" r="1.7" fill="#cf0a35"/>
<circle cx="433.1" cy="198.7" r="1.7" fill="#cf0a35"/>
<circle cx="427.7" cy="201.5" r="1.7" fill="#cf0a35"/>
<circle cx="430.6" cy="203.5" r="1.7" fill="#cf0a35"/>
<circle cx="429.2" cy="207.3" r="1.7" fill="#cf0a35"/>
<circle cx="432.5" cy="208.8" r="1.7" fill="#cf0a35"/>
<circle cx="427.3" cy="212.7" r="1.7" fill="#cf0a35"/>
<circle cx="432.5" cy="212.7" r="1.7" fill="#cf0a35"/>
<path d="M447.81 221.98L449.51 223.68L447.81 225.38L446.11 223.68Z" fill="#0f4c8c"/>
<path d="M448.53 222.22L450.23 223.92L448.53 225.62L446.83 223.92Z" fill="#0f4c8c"/>
<path d="M449.94 220.06L451.64 221.76L449.94 223.46L448.24 221.76Z" fill="#0f4c8c"/>
<path d="M446.57 223.15L448.27 224.85L446.57 226.55L444.87 224.85Z" fill="#0f4c8c"/>
<path d="M447.93 220.74L449.63 222.44L447.93 224.14L446.23 222.44Z" fill="#0f4c8c"/>
<path d="M451.98 221.68L453.68 223.38L451.98 225.08L450.28 223.38Z" fill="#0f4c8c"/>
<path d="M451.1 221.71L452.8 223.41L451.1 225.11L449.4 223.41Z" fill="#0f4c8c"/>
<path d="M450.01 220.4L451.71 222.1L450.01 223.8L448.31 222.1Z" fill="#0f4c8c"/>
<path d="M449.99 223.27L451.69 224.97L449.99 226.67L448.29 224.97Z" fill="#0f4c8c"/>
<path d="M463.3 203.3L465.4 205.4L463.3 207.5L461.2 205.4Z" fill="#0f4c8c"/>
<path d="M460.4 204.8L462.5 206.9L460.4 209L458.3 206.9Z" fill="#0f4c8c"/>
<path d="M464.2 206.2L466.3 208.3L464.2 210.4L462.1 208.3Z" fill="#0f4c8c"/>
<path d="M458.1 206.7L460.2 208.8L458.1 210.9L456 208.8Z" fill="#0f4c8c"/>
<path d="M461.9 208.1L464 210.2L461.9 212.3L459.8 210.2Z" fill="#0f4c8c"/>
<path d="M459.4 210L461.5 212.1L459.4 214.2L457.3 212.1Z" fill="#0f4c8c"/>
<path d="M463.8 210.6L465.9 212.7L463.8 214.8L461.7 212.7Z" fill="#0f4c8c"/>
<path d="M460.4 213.9L462.5 216L460.4 218.1L458.3 216Z" fill="#0f4c8c"/>
<path d="M458.5 214.4L460.6 216.5L458.5 218.6L456.4 216.5Z" fill="#0f4c8c"/>
<path d="M463.3 214.8L465.4 216.9L463.3 219L461.2 216.9Z" fill="#0f4c8c"/>
<line x1="430" y1="190.4" x2="430" y2="203.5" stroke="#555" stroke-width="0.9"/>
<line x1="427.4" y1="190.4" x2="432.6" y2="190.4" stroke="#555" stroke-width="0.9"/>
<line x1="427.4" y1="203.5" x2="432.6" y2="203.5" stroke="#555" stroke-width="0.9"/>
<line x1="427.4" y1="196.2" x2="432.6" y2="196.2" stroke="#222" stroke-width="0.9"/>
<line x1="460.8" y1="206.3" x2="460.8" y2="216.9" stroke="#222" stroke-width="0.9"/>
<line x1="458.6" y1="206.3" x2="463" y2="206.3" stroke="#222" stroke-width="0.9"/>
<line x1="458.6" y1="216.9" x2="463" y2="216.9" stroke="#222" stroke-width="0.9"/>
<line x1="458.2" y1="211.5" x2="463.4" y2="211.5" stroke="#222" stroke-width="0.9"/>
<line x1="410.8" y1="169.2" x2="410.8" y2="228.1" stroke="#1a1a1a" stroke-width="1.2"/>
<line x1="407.2" y1="227.5" x2="410.8" y2="227.5" stroke="#1a1a1a" stroke-width="1.1"/>
<text x="404.1" y="231.04" font-size="9" text-anchor="end" font-weight="normal" font-style="normal" fill="#111" textLength="4.35" lengthAdjust="spacingAndGlyphs" >0</text>
<line x1="407.2" y1="210.2" x2="410.8" y2="210.2" stroke="#1a1a1a" stroke-width="1.1"/>
<text x="404.1" y="213.74" font-size="9" text-anchor="end" font-weight="normal" font-style="normal" fill="#111" textLength="8.7" lengthAdjust="spacingAndGlyphs" >10</text>
<line x1="407.2" y1="192.9" x2="410.8" y2="192.9" stroke="#1a1a1a" stroke-width="1.1"/>
<text x="404.1" y="196.44" font-size="9" text-anchor="end" font-weight="normal" font-style="normal" fill="#111" textLength="8.7" lengthAdjust="spacingAndGlyphs" >20</text>
<line x1="407.2" y1="175.6" x2="410.8" y2="175.6" stroke="#1a1a1a" stroke-width="1.1"/>
<text x="404.1" y="179.14" font-size="9" text-anchor="end" font-weight="normal" font-style="normal" fill="#111" textLength="8.7" lengthAdjust="spacingAndGlyphs" >30</text>
<line x1="407.5" y1="227.5" x2="470" y2="227.5" stroke="#1a1a1a" stroke-width="1.2"/>
<line x1="418.5" y1="227.5" x2="418.5" y2="230.7" stroke="#444" stroke-width="0.9"/>
<line x1="430" y1="227.5" x2="430" y2="230.7" stroke="#444" stroke-width="0.9"/>
<line x1="449.2" y1="227.5" x2="449.2" y2="230.7" stroke="#444" stroke-width="0.9"/>
<line x1="460.8" y1="227.5" x2="460.8" y2="230.7" stroke="#444" stroke-width="0.9"/>
<line x1="415.2" y1="183.3" x2="433.5" y2="183.3" stroke="#8c8c8c" stroke-width="1.4"/>
<text x="424.35" y="184.7" font-size="9" text-anchor="middle" font-weight="bold" font-style="normal" fill="#111" >***</text>
<line x1="426.7" y1="174.2" x2="465.6" y2="174.2" stroke="#333" stroke-width="1"/>
<text x="446.15" y="175.6" font-size="9" text-anchor="middle" font-weight="bold" font-style="normal" fill="#111" >**</text>
<text x="418.5" y="242.4" font-size="9.5" text-anchor="middle" font-weight="normal" font-style="normal" fill="#111" >–</text>
<text x="430" y="242.4" font-size="9.5" text-anchor="middle" font-weight="normal" font-style="normal" fill="#111" >+</text>
<text x="451.2" y="242.4" font-size="9.5" text-anchor="middle" font-weight="normal" font-style="normal" fill="#111" >–</text>
<text x="462.9" y="242.4" font-size="9.5" text-anchor="middle" font-weight="normal" font-style="normal" fill="#111" >+</text>
<rect x="466.9" y="176.6" width="2.8" height="2.8" fill="#cf0a35"/>
<path d="M468.3 186.4L470.3 188.4L468.3 190.4L466.3 188.4Z" fill="#0f4c8c"/>
<text x="473.8" y="181.15" font-size="8" text-anchor="start" font-style="italic" fill="#111" textLength="19.1" lengthAdjust="spacingAndGlyphs" ><tspan>Il33</tspan><tspan dy="-2" font-size="5.44" font-style="normal">fl/fl</tspan></text>
<text x="473.8" y="191.4" font-size="8" text-anchor="start" font-style="italic" fill="#111" textLength="39.8" lengthAdjust="spacingAndGlyphs" ><tspan>Vil1</tspan><tspan dy="-2" font-size="5.44" font-style="normal">cre</tspan><tspan dy="2" font-size="8">Il33</tspan><tspan dy="-2" font-size="5.44" font-style="normal">fl/fl</tspan></text>
<text x="7.5" y="337" font-size="11.2" text-anchor="start" font-weight="bold" font-style="normal" fill="#000" >F</text>
<rect x="51.5" y="387.3" width="9.1" height="15" fill="#e08594"/>
<rect x="71.7" y="378.3" width="8.7" height="24" fill="#83a6c5"/>
<circle cx="55.8" cy="381.2" r="1.7" fill="#cf0a35"/>
<circle cx="52.9" cy="386.3" r="1.7" fill="#cf0a35"/>
<circle cx="57.7" cy="386.3" r="1.7" fill="#cf0a35"/>
<circle cx="54.8" cy="388.3" r="1.7" fill="#cf0a35"/>
<circle cx="51.9" cy="389.2" r="1.7" fill="#cf0a35"/>
<circle cx="59.6" cy="389.2" r="1.7" fill="#cf0a35"/>
<circle cx="53.8" cy="391.2" r="1.7" fill="#cf0a35"/>
<circle cx="57.7" cy="391.2" r="1.7" fill="#cf0a35"/>
<path d="M76 364.1L78.1 366.2L76 368.3L73.9 366.2Z" fill="#0f4c8c"/>
<path d="M73.1 368.3L75.2 370.4L73.1 372.5L71 370.4Z" fill="#0f4c8c"/>
<path d="M78.8 368.3L80.9 370.4L78.8 372.5L76.7 370.4Z" fill="#0f4c8c"/>
<path d="M76 372.1L78.1 374.2L76 376.3L73.9 374.2Z" fill="#0f4c8c"/>
<path d="M74 375.6L76.1 377.7L74 379.8L71.9 377.7Z" fill="#0f4c8c"/>
<path d="M78.8 375.6L80.9 377.7L78.8 379.8L76.7 377.7Z" fill="#0f4c8c"/>
<path d="M73.1 380.4L75.2 382.5L73.1 384.6L71 382.5Z" fill="#0f4c8c"/>
<path d="M78.8 380.4L80.9 382.5L78.8 384.6L76.7 382.5Z" fill="#0f4c8c"/>
<path d="M73.1 385.6L75.2 387.7L73.1 389.8L71 387.7Z" fill="#0f4c8c"/>
<path d="M78.8 385.6L80.9 387.7L78.8 389.8L76.7 387.7Z" fill="#0f4c8c"/>
<path d="M76 387.1L78.1 389.2L76 391.3L73.9 389.2Z" fill="#0f4c8c"/>
<line x1="56" y1="383.5" x2="56" y2="391" stroke="#222" stroke-width="0.9"/>
<line x1="53.8" y1="383.5" x2="58.2" y2="383.5" stroke="#222" stroke-width="0.9"/>
<line x1="53.8" y1="391" x2="58.2" y2="391" stroke="#222" stroke-width="0.9"/>
<line x1="53.4" y1="387.3" x2="58.6" y2="387.3" stroke="#222" stroke-width="0.9"/>
<line x1="76" y1="372.5" x2="76" y2="384.5" stroke="#222" stroke-width="0.9"/>
<line x1="73.6" y1="372.5" x2="78.4" y2="372.5" stroke="#222" stroke-width="0.9"/>
<line x1="73.6" y1="384.5" x2="78.4" y2="384.5" stroke="#222" stroke-width="0.9"/>
<line x1="73.4" y1="378.3" x2="78.6" y2="378.3" stroke="#222" stroke-width="0.9"/>
<line x1="42.7" y1="349.2" x2="42.7" y2="402.9" stroke="#1a1a1a" stroke-width="1.2"/>
<line x1="39.1" y1="402.3" x2="42.7" y2="402.3" stroke="#1a1a1a" stroke-width="1.1"/>
<text x="36.9" y="405.48" font-size="8" text-anchor="end" font-weight="normal" font-style="normal" fill="#111" textLength="4.1" lengthAdjust="spacingAndGlyphs" >0</text>
<line x1="39.1" y1="386.1" x2="42.7" y2="386.1" stroke="#1a1a1a" stroke-width="1.1"/>
<text x="36.9" y="389.28" font-size="8" text-anchor="end" font-weight="normal" font-style="normal" fill="#111" textLength="12.3" lengthAdjust="spacingAndGlyphs" >500</text>
<line x1="39.1" y1="369.9" x2="42.7" y2="369.9" stroke="#1a1a1a" stroke-width="1.1"/>
<text x="36.9" y="373.08" font-size="8" text-anchor="end" font-weight="normal" font-style="normal" fill="#111" textLength="16.4" lengthAdjust="spacingAndGlyphs" >1000</text>
<line x1="39.1" y1="353.7" x2="42.7" y2="353.7" stroke="#1a1a1a" stroke-width="1.1"/>
<text x="36.9" y="356.88" font-size="8" text-anchor="end" font-weight="normal" font-style="normal" fill="#111" textLength="16.4" lengthAdjust="spacingAndGlyphs" >1500</text>
<line x1="39.4" y1="402.3" x2="85.6" y2="402.3" stroke="#1a1a1a" stroke-width="1.2"/>
<line x1="56" y1="402.3" x2="56" y2="405.5" stroke="#444" stroke-width="0.9"/>
<line x1="76" y1="402.3" x2="76" y2="405.5" stroke="#444" stroke-width="0.9"/>
<line x1="51.5" y1="361.7" x2="79.8" y2="361.7" stroke="#8c8c8c" stroke-width="1.4"/>
<text x="65.65" y="363.1" font-size="9" text-anchor="middle" font-weight="bold" font-style="normal" fill="#111" >**</text>
<text x="11.2" y="381.8" font-size="8" text-anchor="middle" font-weight="normal" font-style="normal" fill="#111" textLength="37.5" lengthAdjust="spacingAndGlyphs" transform="rotate(-90 11.2 379)">Bleeding (S)</text>
<rect x="89" y="346.6" width="2.8" height="2.8" fill="#cf0a35"/>
<path d="M90.4 356.2L92.4 358.2L90.4 360.2L88.4 358.2Z" fill="#0f4c8c"/>
<text x="94.9" y="351.15" font-size="7.5" text-anchor="start" font-style="italic" fill="#111" textLength="23.6" lengthAdjust="spacingAndGlyphs" ><tspan>Il1rl1</tspan><tspan dy="-1.88" font-size="5.1" font-style="normal">fl/fl</tspan></text>
<text x="94.9" y="361.2" font-size="7.5" text-anchor="start" font-style="italic" fill="#111" textLength="55.1" lengthAdjust="spacingAndGlyphs" ><tspan>Chga</tspan><tspan dy="-1.88" font-size="5.1" font-style="normal">creER</tspan><tspan dy="1.88" font-size="7.5">Il1rl1</tspan><tspan dy="-1.88" font-size="5.1" font-style="normal">fl/fl</tspan></text>
<text x="187.5" y="337.8" font-size="11.2" text-anchor="start" font-weight="bold" font-style="normal" fill="#000" >G</text>
<rect x="235" y="372.3" width="8.7" height="30" fill="#e08594"/>
<rect x="254.2" y="373.5" width="9.1" height="28.8" fill="#83a6c5"/>
<circle cx="239.6" cy="361.9" r="1.7" fill="#cf0a35"/>
<circle cx="238.3" cy="364.6" r="1.7" fill="#cf0a35"/>
<circle cx="241.2" cy="367.1" r="1.7" fill="#cf0a35"/>
<circle cx="237.3" cy="371.5" r="1.7" fill="#cf0a35"/>
<circle cx="241.5" cy="372.3" r="1.7" fill="#cf0a35"/>
<circle cx="239.2" cy="374.2" r="1.7" fill="#cf0a35"/>
<circle cx="236.9" cy="375.8" r="1.7" fill="#cf0a35"/>
<circle cx="242.1" cy="375.8" r="1.7" fill="#cf0a35"/>
<circle cx="238.3" cy="377.7" r="1.7" fill="#cf0a35"/>
<circle cx="241.2" cy="378.7" r="1.7" fill="#cf0a35"/>
<circle cx="238.8" cy="382.5" r="1.7" fill="#cf0a35"/>
<path d="M258.5 352.9L260.6 355L258.5 357.1L256.4 355Z" fill="#0f4c8c"/>
<path d="M258.1 363.1L260.2 365.2L258.1 367.3L256 365.2Z" fill="#0f4c8c"/>
<path d="M255.6 366.9L257.7 369L255.6 371.1L253.5 369Z" fill="#0f4c8c"/>
<path d="M261.9 368.3L264 370.4L261.9 372.5L259.8 370.4Z" fill="#0f4c8c"/>
<path d="M258.8 370.8L260.9 372.9L258.8 375L256.7 372.9Z" fill="#0f4c8c"/>
<path d="M256.2 374.6L258.3 376.7L256.2 378.8L254.1 376.7Z" fill="#0f4c8c"/>
<path d="M261.3 375.6L263.4 377.7L261.3 379.8L259.2 377.7Z" fill="#0f4c8c"/>
<path d="M258.5 377.1L260.6 379.2L258.5 381.3L256.4 379.2Z" fill="#0f4c8c"/>
<path d="M257.5 380.4L259.6 382.5L257.5 384.6L255.4 382.5Z" fill="#0f4c8c"/>
<path d="M261.3 380.4L263.4 382.5L261.3 384.6L259.2 382.5Z" fill="#0f4c8c"/>
<line x1="239.3" y1="367.1" x2="239.3" y2="377.7" stroke="#222" stroke-width="0.9"/>
<line x1="236.7" y1="367.1" x2="241.9" y2="367.1" stroke="#222" stroke-width="0.9"/>
<line x1="236.7" y1="377.7" x2="241.9" y2="377.7" stroke="#222" stroke-width="0.9"/>
<line x1="236.7" y1="372.3" x2="241.9" y2="372.3" stroke="#222" stroke-width="0.9"/>
<line x1="258.8" y1="364.6" x2="258.8" y2="382.1" stroke="#222" stroke-width="0.9"/>
<line x1="256.2" y1="364.6" x2="261.4" y2="364.6" stroke="#222" stroke-width="0.9"/>
<line x1="256.2" y1="382.1" x2="261.4" y2="382.1" stroke="#222" stroke-width="0.9"/>
<line x1="256.2" y1="373.5" x2="261.4" y2="373.5" stroke="#222" stroke-width="0.9"/>
<line x1="224.2" y1="348.8" x2="224.2" y2="402.9" stroke="#1a1a1a" stroke-width="1.2"/>
<line x1="220.6" y1="402.3" x2="224.2" y2="402.3" stroke="#1a1a1a" stroke-width="1.1"/>
<text x="217.8" y="405.52" font-size="8.1" text-anchor="end" font-weight="normal" font-style="normal" fill="#111" textLength="4.05" lengthAdjust="spacingAndGlyphs" >0</text>
<line x1="220.6" y1="385.63" x2="224.2" y2="385.63" stroke="#1a1a1a" stroke-width="1.1"/>
<text x="217.8" y="388.85" font-size="8.1" text-anchor="end" font-weight="normal" font-style="normal" fill="#111" textLength="12.15" lengthAdjust="spacingAndGlyphs" >500</text>
<line x1="220.6" y1="368.97" x2="224.2" y2="368.97" stroke="#1a1a1a" stroke-width="1.1"/>
<text x="217.8" y="372.19" font-size="8.1" text-anchor="end" font-weight="normal" font-style="normal" fill="#111" textLength="16.2" lengthAdjust="spacingAndGlyphs" >1000</text>
<line x1="220.6" y1="352.31" x2="224.2" y2="352.31" stroke="#1a1a1a" stroke-width="1.1"/>
<text x="217.8" y="355.52" font-size="8.1" text-anchor="end" font-weight="normal" font-style="normal" fill="#111" textLength="16.2" lengthAdjust="spacingAndGlyphs" >1500</text>
<line x1="221" y1="402.3" x2="267" y2="402.3" stroke="#1a1a1a" stroke-width="1.2"/>
<line x1="239.3" y1="402.3" x2="239.3" y2="405.5" stroke="#444" stroke-width="0.9"/>
<line x1="258.8" y1="402.3" x2="258.8" y2="405.5" stroke="#444" stroke-width="0.9"/>
<text x="192.8" y="380.37" font-size="8.2" text-anchor="middle" font-weight="normal" font-style="normal" fill="#111" textLength="25" lengthAdjust="spacingAndGlyphs" transform="rotate(-90 192.8 377.5)">Cells/µl</text>
<rect x="272.4" y="346.8" width="2.8" height="2.8" fill="#cf0a35"/>
<path d="M273.8 356.3L275.8 358.3L273.8 360.3L271.8 358.3Z" fill="#0f4c8c"/>
<text x="278.8" y="351.35" font-size="7.5" text-anchor="start" font-style="italic" fill="#111" textLength="23.5" lengthAdjust="spacingAndGlyphs" ><tspan>Il1rl1</tspan><tspan dy="-1.88" font-size="5.1" font-style="normal">fl/fl</tspan></text>
<text x="278.8" y="361.3" font-size="7.5" text-anchor="start" font-style="italic" fill="#111" textLength="55" lengthAdjust="spacingAndGlyphs" ><tspan>Chga</tspan><tspan dy="-1.88" font-size="5.1" font-style="normal">creER</tspan><tspan dy="1.88" font-size="7.5">Il1rl1</tspan><tspan dy="-1.88" font-size="5.1" font-style="normal">fl/fl</tspan></text>
<text x="373" y="329.8" font-size="11.2" text-anchor="start" font-weight="bold" font-style="normal" fill="#000" >H</text>
<rect x="410.8" y="372.9" width="9" height="29.4" fill="#e08594"/>
<rect x="431" y="385.8" width="9" height="16.5" fill="#83a6c5"/>
<circle cx="415.6" cy="357.9" r="1.7" fill="#cf0a35"/>
<circle cx="415.6" cy="363.7" r="1.7" fill="#cf0a35"/>
<circle cx="413.7" cy="367.5" r="1.7" fill="#cf0a35"/>
<circle cx="416" cy="369.6" r="1.7" fill="#cf0a35"/>
<circle cx="412.1" cy="372.9" r="1.7" fill="#cf0a35"/>
<circle cx="417.9" cy="372.9" r="1.7" fill="#cf0a35"/>
<circle cx="415" cy="375.8" r="1.7" fill="#cf0a35"/>
<circle cx="412.1" cy="381.5" r="1.7" fill="#cf0a35"/>
<circle cx="417.9" cy="381.5" r="1.7" fill="#cf0a35"/>
<circle cx="415" cy="383.5" r="1.7" fill="#cf0a35"/>
<path d="M432.3 373.7L434.4 375.8L432.3 377.9L430.2 375.8Z" fill="#0f4c8c"/>
<path d="M436.2 373.7L438.3 375.8L436.2 377.9L434.1 375.8Z" fill="#0f4c8c"/>
<path d="M434.2 379.4L436.3 381.5L434.2 383.6L432.1 381.5Z" fill="#0f4c8c"/>
<path d="M431.9 384.2L434 386.3L431.9 388.4L429.8 386.3Z" fill="#0f4c8c"/>
<path d="M438.1 384.2L440.2 386.3L438.1 388.4L436 386.3Z" fill="#0f4c8c"/>
<path d="M435.2 386.2L437.3 388.3L435.2 390.4L433.1 388.3Z" fill="#0f4c8c"/>
<path d="M433.3 390L435.4 392.1L433.3 394.2L431.2 392.1Z" fill="#0f4c8c"/>
<path d="M437.1 390L439.2 392.1L437.1 394.2L435 392.1Z" fill="#0f4c8c"/>
<path d="M434.2 391.9L436.3 394L434.2 396.1L432.1 394Z" fill="#0f4c8c"/>
<line x1="415.3" y1="365.6" x2="415.3" y2="380.6" stroke="#222" stroke-width="0.9"/>
<line x1="412.7" y1="365.6" x2="417.9" y2="365.6" stroke="#222" stroke-width="0.9"/>
<line x1="412.7" y1="380.6" x2="417.9" y2="380.6" stroke="#222" stroke-width="0.9"/>
<line x1="412.7" y1="372.9" x2="417.9" y2="372.9" stroke="#222" stroke-width="0.9"/>
<line x1="435.4" y1="378.7" x2="435.4" y2="391.2" stroke="#222" stroke-width="0.9"/>
<line x1="432.8" y1="378.7" x2="438" y2="378.7" stroke="#222" stroke-width="0.9"/>
<line x1="432.8" y1="391.2" x2="438" y2="391.2" stroke="#222" stroke-width="0.9"/>
<line x1="432.8" y1="385.8" x2="438" y2="385.8" stroke="#222" stroke-width="0.9"/>
<line x1="400.2" y1="348.8" x2="400.2" y2="402.9" stroke="#1a1a1a" stroke-width="1.2"/>
<line x1="396.6" y1="402.3" x2="400.2" y2="402.3" stroke="#1a1a1a" stroke-width="1.1"/>
<text x="394.1" y="405.52" font-size="8.1" text-anchor="end" font-weight="normal" font-style="normal" fill="#111" textLength="4" lengthAdjust="spacingAndGlyphs" >0</text>
<line x1="396.6" y1="392.26" x2="400.2" y2="392.26" stroke="#1a1a1a" stroke-width="1.1"/>
<text x="394.1" y="395.48" font-size="8.1" text-anchor="end" font-weight="normal" font-style="normal" fill="#111" textLength="4" lengthAdjust="spacingAndGlyphs" >2</text>
<line x1="396.6" y1="382.22" x2="400.2" y2="382.22" stroke="#1a1a1a" stroke-width="1.1"/>
<text x="394.1" y="385.44" font-size="8.1" text-anchor="end" font-weight="normal" font-style="normal" fill="#111" textLength="4" lengthAdjust="spacingAndGlyphs" >4</text>
<line x1="396.6" y1="372.18" x2="400.2" y2="372.18" stroke="#1a1a1a" stroke-width="1.1"/>
<text x="394.1" y="375.4" font-size="8.1" text-anchor="end" font-weight="normal" font-style="normal" fill="#111" textLength="4" lengthAdjust="spacingAndGlyphs" >6</text>
<line x1="396.6" y1="362.14" x2="400.2" y2="362.14" stroke="#1a1a1a" stroke-width="1.1"/>
<text x="394.1" y="365.36" font-size="8.1" text-anchor="end" font-weight="normal" font-style="normal" fill="#111" textLength="4" lengthAdjust="spacingAndGlyphs" >8</text>
<line x1="396.6" y1="352.1" x2="400.2" y2="352.1" stroke="#1a1a1a" stroke-width="1.1"/>
<text x="394.1" y="355.32" font-size="8.1" text-anchor="end" font-weight="normal" font-style="normal" fill="#111" textLength="8" lengthAdjust="spacingAndGlyphs" >10</text>
<line x1="397" y1="402.2" x2="444.6" y2="402.2" stroke="#1a1a1a" stroke-width="1.2"/>
<line x1="415.3" y1="402.2" x2="415.3" y2="405.4" stroke="#444" stroke-width="0.9"/>
<line x1="435.4" y1="402.2" x2="435.4" y2="405.4" stroke="#444" stroke-width="0.9"/>
<line x1="410.2" y1="354.5" x2="441.7" y2="354.5" stroke="#8c8c8c" stroke-width="1.4"/>
<text x="425.95" y="355.9" font-size="9" text-anchor="middle" font-weight="bold" font-style="normal" fill="#111" >**</text>
<text x="377.6" y="378.87" font-size="8.2" text-anchor="middle" font-weight="normal" font-style="normal" fill="#111" textLength="21" lengthAdjust="spacingAndGlyphs" transform="rotate(-90 377.6 376)">µg/ml</text>
<rect x="452.3" y="347.1" width="2.8" height="2.8" fill="#cf0a35"/>
<path d="M453.7 356.6L455.7 358.6L453.7 360.6L451.7 358.6Z" fill="#0f4c8c"/>
<text x="458" y="351.65" font-size="7.5" text-anchor="start" font-style="italic" fill="#111" textLength="23.5" lengthAdjust="spacingAndGlyphs" ><tspan>Il1rl1</tspan><tspan dy="-1.88" font-size="5.1" font-style="normal">fl/fl</tspan></text>
<text x="458" y="361.6" font-size="7.5" text-anchor="start" font-style="italic" fill="#111" textLength="55.8" lengthAdjust="spacingAndGlyphs" ><tspan>Chga</tspan><tspan dy="-1.88" font-size="5.1" font-style="normal">creER</tspan><tspan dy="1.88" font-size="7.5">Il1rl1</tspan><tspan dy="-1.88" font-size="5.1" font-style="normal">fl/fl</tspan></text>
<text x="6.2" y="434.8" font-size="11.2" text-anchor="start" font-weight="bold" font-style="normal" fill="#000" >I</text>
<line x1="42.8" y1="432.7" x2="54.6" y2="432.7" stroke="#d2143c" stroke-width="1.6"/>
<text x="58.6" y="435" font-size="7.2" text-anchor="start" font-weight="normal" font-style="normal" fill="#111" textLength="23.9" lengthAdjust="spacingAndGlyphs" >Resting</text>
<line x1="144.6" y1="432.9" x2="155.5" y2="432.9" stroke="#104f8e" stroke-width="1.6"/>
<text x="159" y="435.2" font-size="7.2" text-anchor="start" font-weight="normal" font-style="normal" fill="#111" textLength="31.7" lengthAdjust="spacingAndGlyphs" >Thrombin</text>
<polyline points="43,481.7 43.34,480.98 43.91,478.57 44.36,477.23 44.7,476.5 45.04,475.1 45.49,474.41 46.04,471.92 46.4,471.3 46.92,470.21 46.87,468.27 47.3,467 47.68,465.18 47.59,464.49 47.81,462.4 48.37,461.96 48.59,459.61 48.7,459.26 49,457.5 49.53,455.88 49.67,455.42 49.83,453.47 50.16,452.72 50.33,451.18 50.8,449.7 51.27,451.17 51.85,452.43 52.1,454 53.9,455.8 53.89,456.78 54.13,458.37 54.38,459.12 54.99,460.89 54.93,462.58 55.12,463.17 55.3,464.77 55.6,466.1 55.67,467.26 55.83,468.67 55.9,470.21 56.26,471.42 56.27,472.43 56.3,474.72 56.56,475.74 57.05,476.54 56.72,478.73 56.92,479.64 57.15,480.55 57.2,482.23 57.67,483.48 57.7,485.2 57.76,486.65 58.14,487.41 58.14,489.96 58.36,490.55 58.66,492.28 58.67,493.36 58.77,494.9 59.07,495.72 59.02,497.58 59.3,498.59 59.47,499.89 59.46,502.14 59.49,502.38 59.8,504.2 60.42,505.44 60.34,506.32 61.07,507.56 61.34,509.71 61.63,510.7 62,512 63.52,512.3 65.05,512.6 66.57,512.9 68.1,513.2 69.44,513.21 70.79,513.22 72.13,513.23 73.48,513.24 74.82,513.26 76.17,513.27 77.51,513.28 78.86,513.29 80.2,513.3" fill="none" stroke="#d2143c" stroke-width="1.45" stroke-linejoin="round"/>
<polyline points="43.3,444.6 43.3,445.9 43.3,447.21 43.3,448.51 43.3,449.82 43.3,451.12 43.3,452.43 43.3,453.73 43.3,455.03 43.3,456.34 43.3,457.64 43.3,458.95 43.3,460.25 43.3,461.56 43.3,462.86 43.3,464.16 43.3,465.47 43.3,466.77 43.3,468.08 43.3,469.38 43.3,470.69 43.3,471.99 43.3,473.29 43.3,474.6 43.3,475.9 43.3,477.21 43.3,478.51 43.3,479.81 43.3,481.12 43.3,482.42 43.3,483.73 43.3,485.03 43.3,486.34 43.3,487.64 43.3,488.94 43.3,490.25 43.3,491.55 43.3,492.86 43.3,494.16 43.3,495.47 43.3,496.77 43.3,498.07 43.3,499.38 43.3,500.68 43.3,501.99 43.3,503.29 43.3,504.6 43.3,505.9 44.08,504.87 44.82,503.71 45.51,502.04 46.4,500.7 46.76,499.81 47.47,497.57 47.81,496.59 48.39,494.99 48.5,493.71 49,493.55 49.6,491.42 49.9,490.4 49.96,488.99 50.49,487.26 50.71,486.8 50.84,484.94 51.2,483.25 51.55,482.19 51.73,480.41 52.25,479.81 52.5,478.3 52.9,476.5 52.73,475.36 53.13,474.78 53.41,473.3 53.51,471.44 53.76,469.44 53.73,468.36 53.87,466.84 53.93,466.4 54.2,464.4 54.81,462.79 54.86,461.38 55.35,459.76 56,458.4 56.41,457.21 57.13,454.99 57.7,454 58.31,452.07 58.94,451.01 59.4,449.2 59.76,451.41 60.48,451.92 61.1,454 61.5,455.66 61.36,456.29 61.63,457.71 61.99,459.65 62.07,461.29 62.58,462.19 62.61,464.24 62.9,465.3 63.45,466.69 63.6,467.27 64.42,469.51 64.66,470.41 65.07,471.26 65.5,473.1 65.91,474.81 66.37,476.5 66.69,478.19 67.2,479.1 68.9,480.8 70.01,482.42 71.5,483.4 73.3,481.7 73.79,483.49 74.35,483.8 74.86,486.29 75.3,486.9 75.85,488.18 76.23,489.61 76.55,491.86 76.99,492.08 77.13,493.66 77.6,495.6 77.96,497.65 78.34,498.33 78.71,500.35 78.74,500.68 79.19,502.69 79.62,504.31 79.81,505.96 80.2,506.8 81.08,508.13 81.57,509.45 82.15,511.07 82.8,512.5 84.1,512.9 85.4,513.3 86.75,513.3 88.09,513.3 89.44,513.3 90.78,513.3 92.13,513.3 93.47,513.3 94.82,513.3 96.16,513.3 97.51,513.3 98.85,513.3 100.2,513.3 101.55,513.3 102.89,513.3 104.24,513.3 105.58,513.3 106.93,513.3 108.27,513.3 109.62,513.3 110.96,513.3 112.31,513.3 113.65,513.3 115,513.3" fill="none" stroke="#104f8e" stroke-width="1.45" stroke-linejoin="round"/>
<rect x="42.6" y="441.9" width="72.5" height="71.5" fill="none" stroke="#111" stroke-width="1.1"/>
<line x1="39.2" y1="513.4" x2="42.6" y2="513.4" stroke="#000" stroke-width="1.2"/>
<line x1="40.4" y1="509.96" x2="42.6" y2="509.96" stroke="#000" stroke-width="1.2"/>
<line x1="40.4" y1="506.52" x2="42.6" y2="506.52" stroke="#000" stroke-width="1.2"/>
<line x1="40.4" y1="503.08" x2="42.6" y2="503.08" stroke="#000" stroke-width="1.2"/>
<line x1="39.2" y1="499.64" x2="42.6" y2="499.64" stroke="#000" stroke-width="1.2"/>
<line x1="40.4" y1="496.2" x2="42.6" y2="496.2" stroke="#000" stroke-width="1.2"/>
<line x1="40.4" y1="492.76" x2="42.6" y2="492.76" stroke="#000" stroke-width="1.2"/>
<line x1="40.4" y1="489.32" x2="42.6" y2="489.32" stroke="#000" stroke-width="1.2"/>
<line x1="39.2" y1="485.88" x2="42.6" y2="485.88" stroke="#000" stroke-width="1.2"/>
<line x1="40.4" y1="482.44" x2="42.6" y2="482.44" stroke="#000" stroke-width="1.2"/>
<line x1="40.4" y1="479" x2="42.6" y2="479" stroke="#000" stroke-width="1.2"/>
<line x1="40.4" y1="475.56" x2="42.6" y2="475.56" stroke="#000" stroke-width="1.2"/>
<line x1="39.2" y1="472.12" x2="42.6" y2="472.12" stroke="#000" stroke-width="1.2"/>
<line x1="40.4" y1="468.68" x2="42.6" y2="468.68" stroke="#000" stroke-width="1.2"/>
<line x1="40.4" y1="465.24" x2="42.6" y2="465.24" stroke="#000" stroke-width="1.2"/>
<line x1="40.4" y1="461.8" x2="42.6" y2="461.8" stroke="#000" stroke-width="1.2"/>
<line x1="39.2" y1="458.36" x2="42.6" y2="458.36" stroke="#000" stroke-width="1.2"/>
<line x1="40.4" y1="454.92" x2="42.6" y2="454.92" stroke="#000" stroke-width="1.2"/>
<line x1="40.4" y1="451.48" x2="42.6" y2="451.48" stroke="#000" stroke-width="1.2"/>
<line x1="40.4" y1="448.04" x2="42.6" y2="448.04" stroke="#000" stroke-width="1.2"/>
<line x1="39.2" y1="444.6" x2="42.6" y2="444.6" stroke="#000" stroke-width="1.2"/>
<text x="37" y="516.43" font-size="8" text-anchor="end" font-weight="normal" font-style="normal" fill="#111" textLength="4.1" lengthAdjust="spacingAndGlyphs" >0</text>
<text x="37" y="502.67" font-size="8" text-anchor="end" font-weight="normal" font-style="normal" fill="#111" textLength="8.2" lengthAdjust="spacingAndGlyphs" >20</text>
<text x="37" y="488.91" font-size="8" text-anchor="end" font-weight="normal" font-style="normal" fill="#111" textLength="8.2" lengthAdjust="spacingAndGlyphs" >40</text>
<text x="37" y="475.15" font-size="8" text-anchor="end" font-weight="normal" font-style="normal" fill="#111" textLength="8.2" lengthAdjust="spacingAndGlyphs" >60</text>
<text x="37" y="461.39" font-size="8" text-anchor="end" font-weight="normal" font-style="normal" fill="#111" textLength="8.2" lengthAdjust="spacingAndGlyphs" >80</text>
<text x="37" y="447.63" font-size="8" text-anchor="end" font-weight="normal" font-style="normal" fill="#111" textLength="12.3" lengthAdjust="spacingAndGlyphs" >100</text>
<line x1="42.6" y1="513.4" x2="42.6" y2="516.2" stroke="#111" stroke-width="1"/>
<line x1="48.06" y1="513.4" x2="48.06" y2="515.4" stroke="#111" stroke-width="0.9"/>
<line x1="51.25" y1="513.4" x2="51.25" y2="515.4" stroke="#111" stroke-width="0.9"/>
<line x1="53.51" y1="513.4" x2="53.51" y2="515.4" stroke="#111" stroke-width="0.9"/>
<line x1="55.27" y1="513.4" x2="55.27" y2="515.4" stroke="#111" stroke-width="0.9"/>
<line x1="56.7" y1="513.4" x2="56.7" y2="515.4" stroke="#111" stroke-width="0.9"/>
<line x1="57.92" y1="513.4" x2="57.92" y2="515.4" stroke="#111" stroke-width="0.9"/>
<line x1="58.97" y1="513.4" x2="58.97" y2="515.4" stroke="#111" stroke-width="0.9"/>
<line x1="59.9" y1="513.4" x2="59.9" y2="515.4" stroke="#111" stroke-width="0.9"/>
<text x="43.2" y="526.7" font-size="7.8" text-anchor="middle" fill="#111" textLength="11.3" lengthAdjust="spacingAndGlyphs">10<tspan dy="-2.4" font-size="5.3">0</tspan></text>
<line x1="60.73" y1="513.4" x2="60.73" y2="516.2" stroke="#111" stroke-width="1"/>
<line x1="66.18" y1="513.4" x2="66.18" y2="515.4" stroke="#111" stroke-width="0.9"/>
<line x1="69.37" y1="513.4" x2="69.37" y2="515.4" stroke="#111" stroke-width="0.9"/>
<line x1="71.64" y1="513.4" x2="71.64" y2="515.4" stroke="#111" stroke-width="0.9"/>
<line x1="73.39" y1="513.4" x2="73.39" y2="515.4" stroke="#111" stroke-width="0.9"/>
<line x1="74.83" y1="513.4" x2="74.83" y2="515.4" stroke="#111" stroke-width="0.9"/>
<line x1="76.04" y1="513.4" x2="76.04" y2="515.4" stroke="#111" stroke-width="0.9"/>
<line x1="77.09" y1="513.4" x2="77.09" y2="515.4" stroke="#111" stroke-width="0.9"/>
<line x1="78.02" y1="513.4" x2="78.02" y2="515.4" stroke="#111" stroke-width="0.9"/>
<text x="61.33" y="526.7" font-size="7.8" text-anchor="middle" fill="#111" textLength="11.3" lengthAdjust="spacingAndGlyphs">10<tspan dy="-2.4" font-size="5.3">1</tspan></text>
<line x1="78.85" y1="513.4" x2="78.85" y2="516.2" stroke="#111" stroke-width="1"/>
<line x1="84.31" y1="513.4" x2="84.31" y2="515.4" stroke="#111" stroke-width="0.9"/>
<line x1="87.5" y1="513.4" x2="87.5" y2="515.4" stroke="#111" stroke-width="0.9"/>
<line x1="89.76" y1="513.4" x2="89.76" y2="515.4" stroke="#111" stroke-width="0.9"/>
<line x1="91.52" y1="513.4" x2="91.52" y2="515.4" stroke="#111" stroke-width="0.9"/>
<line x1="92.95" y1="513.4" x2="92.95" y2="515.4" stroke="#111" stroke-width="0.9"/>
<line x1="94.17" y1="513.4" x2="94.17" y2="515.4" stroke="#111" stroke-width="0.9"/>
<line x1="95.22" y1="513.4" x2="95.22" y2="515.4" stroke="#111" stroke-width="0.9"/>
<line x1="96.15" y1="513.4" x2="96.15" y2="515.4" stroke="#111" stroke-width="0.9"/>
<text x="79.45" y="526.7" font-size="7.8" text-anchor="middle" fill="#111" textLength="11.3" lengthAdjust="spacingAndGlyphs">10<tspan dy="-2.4" font-size="5.3">2</tspan></text>
<line x1="96.97" y1="513.4" x2="96.97" y2="516.2" stroke="#111" stroke-width="1"/>
<line x1="102.43" y1="513.4" x2="102.43" y2="515.4" stroke="#111" stroke-width="0.9"/>
<line x1="105.62" y1="513.4" x2="105.62" y2="515.4" stroke="#111" stroke-width="0.9"/>
<line x1="107.89" y1="513.4" x2="107.89" y2="515.4" stroke="#111" stroke-width="0.9"/>
<line x1="109.64" y1="513.4" x2="109.64" y2="515.4" stroke="#111" stroke-width="0.9"/>
<line x1="111.08" y1="513.4" x2="111.08" y2="515.4" stroke="#111" stroke-width="0.9"/>
<line x1="112.29" y1="513.4" x2="112.29" y2="515.4" stroke="#111" stroke-width="0.9"/>
<line x1="113.34" y1="513.4" x2="113.34" y2="515.4" stroke="#111" stroke-width="0.9"/>
<line x1="114.27" y1="513.4" x2="114.27" y2="515.4" stroke="#111" stroke-width="0.9"/>
<text x="97.57" y="526.7" font-size="7.8" text-anchor="middle" fill="#111" textLength="11.3" lengthAdjust="spacingAndGlyphs">10<tspan dy="-2.4" font-size="5.3">3</tspan></text>
<line x1="115.1" y1="513.4" x2="115.1" y2="516.2" stroke="#111" stroke-width="1"/>
<text x="115.7" y="526.7" font-size="7.8" text-anchor="middle" fill="#111" textLength="11.3" lengthAdjust="spacingAndGlyphs">10<tspan dy="-2.4" font-size="5.3">4</tspan></text>
<polyline points="144.5,485.2 145.55,484.13 146.2,481.7 146.24,480.74 146.4,478.84 146.67,477.2 146.9,476.56 147.21,475.26 147.2,473.92 147.53,472.74 148,471.47 148,469.6 148.36,468.64 149.01,466.6 149.39,466.38 149.7,464.4 150.58,463.24 151.4,461 151.7,459.5 151.66,458.05 152.17,456.12 152.07,455.32 152.5,453.85 152.6,452.3 153.17,454.18 153.61,454.53 154,456.6 154.75,458.56 155.68,458.95 156.6,461 156.77,461.83 156.97,464.45 157.39,465 157.67,466.45 157.93,468.55 158.4,469.6 158.33,470.27 158.79,471.89 159.02,473.27 159.14,474.45 159.28,476.44 159.1,477.5 159.33,479.53 159.63,480.71 159.53,481.65 159.55,483.6 160.03,483.82 160.19,485.19 160.1,486.9 160.27,488.09 160.52,490.14 160.67,491.26 160.84,491.95 160.95,493.23 161.26,494.12 161.83,495.81 161.74,497.75 162.08,498.07 162.2,499.25 162.4,501.45 162.7,502.5 163.01,504 163.49,505.39 163.96,506.17 164.67,507.55 164.91,509.76 165.3,511.1 166.73,511.7 168.17,512.3 169.6,512.9 170.98,512.98 172.36,513.06 173.74,513.14 175.12,513.22 176.5,513.3" fill="none" stroke="#d2143c" stroke-width="1.45" stroke-linejoin="round"/>
<polyline points="144.6,444.5 144.6,445.81 144.6,447.11 144.6,448.42 144.6,449.73 144.6,451.03 144.6,452.34 144.6,453.65 144.6,454.95 144.6,456.26 144.6,457.57 144.6,458.87 144.6,460.18 144.6,461.49 144.6,462.79 144.6,464.1 144.6,465.41 144.6,466.71 144.6,468.02 144.6,469.33 144.6,470.63 144.6,471.94 144.6,473.25 144.6,474.55 144.6,475.86 144.6,477.17 144.6,478.47 144.6,479.78 144.6,481.09 144.6,482.39 144.6,483.7 144.6,485.01 144.6,486.31 144.6,487.62 144.6,488.93 144.6,490.23 144.6,491.54 144.6,492.85 144.6,494.15 144.6,495.46 144.6,496.77 144.6,498.07 144.6,499.38 144.6,500.69 144.6,501.99 144.6,503.3 144.89,502.13 145.28,500.63 145.45,499.33 145.8,498.46 146.58,496.15 146.88,494.49 147.1,493.8 147.61,492.1 147.84,491.13 148.03,490.34 148.39,488.53 148.58,487.08 148.94,486.51 149.2,484.26 149.7,483.4 150.36,481.51 150.81,480.68 151.79,478.96 152.3,478.3 152.94,477.11 153.31,475.45 153.46,473.37 154.04,473.07 154.5,470.97 154.9,469.6 155.34,468.3 155.52,466.43 156,465.82 155.81,464.21 156.42,462.7 156.4,462.18 156.9,459.76 157.14,459.44 157.5,457.5 158.14,456.16 158.75,454.24 159.36,453.56 160.14,452.62 160.6,450.6 161.03,451.41 161.65,453.84 162.47,455 162.96,456.73 163.5,457.5 165.3,459.2 167,461 167.69,462.83 168.7,464.4 168.86,466.4 169.01,467.77 169.34,468.38 169.41,469.38 169.72,470.68 169.58,472.11 170.13,474.51 170.11,475.61 170.24,476.29 170.5,478.3 170.78,479.12 170.67,481.53 171,482.1 171.39,484.25 171.67,485.76 171.86,485.9 171.99,488.3 171.76,489.46 172.16,490.74 172.14,491.68 172.71,493.55 172.51,494.28 172.78,495.99 173.1,497.3 173.41,498.03 173.85,500.48 173.93,502.1 174.53,502.24 174.64,504.09 175.2,505.48 175.3,507.08 175.7,508.5 176.57,509.54 177.4,510.9 178.25,512.1 179.1,513.3 180.42,513.3 181.74,513.3 183.05,513.3 184.37,513.3 185.69,513.3 187.01,513.3 188.32,513.3 189.64,513.3 190.96,513.3 192.28,513.3 193.6,513.3 194.91,513.3 196.23,513.3 197.55,513.3 198.87,513.3 200.19,513.3 201.5,513.3 202.82,513.3 204.14,513.3 205.46,513.3 206.78,513.3 208.09,513.3 209.41,513.3 210.73,513.3 212.05,513.3 213.36,513.3 214.68,513.3 216,513.3" fill="none" stroke="#104f8e" stroke-width="1.45" stroke-linejoin="round"/>
<rect x="143.8" y="441.9" width="72.5" height="71.5" fill="none" stroke="#111" stroke-width="1.1"/>
<line x1="140.4" y1="513.4" x2="143.8" y2="513.4" stroke="#000" stroke-width="1.2"/>
<line x1="141.6" y1="509.96" x2="143.8" y2="509.96" stroke="#000" stroke-width="1.2"/>
<line x1="141.6" y1="506.52" x2="143.8" y2="506.52" stroke="#000" stroke-width="1.2"/>
<line x1="141.6" y1="503.08" x2="143.8" y2="503.08" stroke="#000" stroke-width="1.2"/>
<line x1="140.4" y1="499.64" x2="143.8" y2="499.64" stroke="#000" stroke-width="1.2"/>
<line x1="141.6" y1="496.2" x2="143.8" y2="496.2" stroke="#000" stroke-width="1.2"/>
<line x1="141.6" y1="492.76" x2="143.8" y2="492.76" stroke="#000" stroke-width="1.2"/>
<line x1="141.6" y1="489.32" x2="143.8" y2="489.32" stroke="#000" stroke-width="1.2"/>
<line x1="140.4" y1="485.88" x2="143.8" y2="485.88" stroke="#000" stroke-width="1.2"/>
<line x1="141.6" y1="482.44" x2="143.8" y2="482.44" stroke="#000" stroke-width="1.2"/>
<line x1="141.6" y1="479" x2="143.8" y2="479" stroke="#000" stroke-width="1.2"/>
<line x1="141.6" y1="475.56" x2="143.8" y2="475.56" stroke="#000" stroke-width="1.2"/>
<line x1="140.4" y1="472.12" x2="143.8" y2="472.12" stroke="#000" stroke-width="1.2"/>
<line x1="141.6" y1="468.68" x2="143.8" y2="468.68" stroke="#000" stroke-width="1.2"/>
<line x1="141.6" y1="465.24" x2="143.8" y2="465.24" stroke="#000" stroke-width="1.2"/>
<line x1="141.6" y1="461.8" x2="143.8" y2="461.8" stroke="#000" stroke-width="1.2"/>
<line x1="140.4" y1="458.36" x2="143.8" y2="458.36" stroke="#000" stroke-width="1.2"/>
<line x1="141.6" y1="454.92" x2="143.8" y2="454.92" stroke="#000" stroke-width="1.2"/>
<line x1="141.6" y1="451.48" x2="143.8" y2="451.48" stroke="#000" stroke-width="1.2"/>
<line x1="141.6" y1="448.04" x2="143.8" y2="448.04" stroke="#000" stroke-width="1.2"/>
<line x1="140.4" y1="444.6" x2="143.8" y2="444.6" stroke="#000" stroke-width="1.2"/>
<text x="138.2" y="516.43" font-size="8" text-anchor="end" font-weight="normal" font-style="normal" fill="#111" textLength="4.1" lengthAdjust="spacingAndGlyphs" >0</text>
<text x="138.2" y="502.67" font-size="8" text-anchor="end" font-weight="normal" font-style="normal" fill="#111" textLength="8.2" lengthAdjust="spacingAndGlyphs" >20</text>
<text x="138.2" y="488.91" font-size="8" text-anchor="end" font-weight="normal" font-style="normal" fill="#111" textLength="8.2" lengthAdjust="spacingAndGlyphs" >40</text>
<text x="138.2" y="475.15" font-size="8" text-anchor="end" font-weight="normal" font-style="normal" fill="#111" textLength="8.2" lengthAdjust="spacingAndGlyphs" >60</text>
<text x="138.2" y="461.39" font-size="8" text-anchor="end" font-weight="normal" font-style="normal" fill="#111" textLength="8.2" lengthAdjust="spacingAndGlyphs" >80</text>
<text x="138.2" y="447.63" font-size="8" text-anchor="end" font-weight="normal" font-style="normal" fill="#111" textLength="12.3" lengthAdjust="spacingAndGlyphs" >100</text>
<line x1="143.8" y1="513.4" x2="143.8" y2="516.2" stroke="#111" stroke-width="1"/>
<line x1="149.26" y1="513.4" x2="149.26" y2="515.4" stroke="#111" stroke-width="0.9"/>
<line x1="152.45" y1="513.4" x2="152.45" y2="515.4" stroke="#111" stroke-width="0.9"/>
<line x1="154.71" y1="513.4" x2="154.71" y2="515.4" stroke="#111" stroke-width="0.9"/>
<line x1="156.47" y1="513.4" x2="156.47" y2="515.4" stroke="#111" stroke-width="0.9"/>
<line x1="157.9" y1="513.4" x2="157.9" y2="515.4" stroke="#111" stroke-width="0.9"/>
<line x1="159.12" y1="513.4" x2="159.12" y2="515.4" stroke="#111" stroke-width="0.9"/>
<line x1="160.17" y1="513.4" x2="160.17" y2="515.4" stroke="#111" stroke-width="0.9"/>
<line x1="161.1" y1="513.4" x2="161.1" y2="515.4" stroke="#111" stroke-width="0.9"/>
<text x="144.4" y="526.7" font-size="7.8" text-anchor="middle" fill="#111" textLength="11.3" lengthAdjust="spacingAndGlyphs">10<tspan dy="-2.4" font-size="5.3">0</tspan></text>
<line x1="161.93" y1="513.4" x2="161.93" y2="516.2" stroke="#111" stroke-width="1"/>
<line x1="167.38" y1="513.4" x2="167.38" y2="515.4" stroke="#111" stroke-width="0.9"/>
<line x1="170.57" y1="513.4" x2="170.57" y2="515.4" stroke="#111" stroke-width="0.9"/>
<line x1="172.84" y1="513.4" x2="172.84" y2="515.4" stroke="#111" stroke-width="0.9"/>
<line x1="174.59" y1="513.4" x2="174.59" y2="515.4" stroke="#111" stroke-width="0.9"/>
<line x1="176.03" y1="513.4" x2="176.03" y2="515.4" stroke="#111" stroke-width="0.9"/>
<line x1="177.24" y1="513.4" x2="177.24" y2="515.4" stroke="#111" stroke-width="0.9"/>
<line x1="178.29" y1="513.4" x2="178.29" y2="515.4" stroke="#111" stroke-width="0.9"/>
<line x1="179.22" y1="513.4" x2="179.22" y2="515.4" stroke="#111" stroke-width="0.9"/>
<text x="162.53" y="526.7" font-size="7.8" text-anchor="middle" fill="#111" textLength="11.3" lengthAdjust="spacingAndGlyphs">10<tspan dy="-2.4" font-size="5.3">1</tspan></text>
<line x1="180.05" y1="513.4" x2="180.05" y2="516.2" stroke="#111" stroke-width="1"/>
<line x1="185.51" y1="513.4" x2="185.51" y2="515.4" stroke="#111" stroke-width="0.9"/>
<line x1="188.7" y1="513.4" x2="188.7" y2="515.4" stroke="#111" stroke-width="0.9"/>
<line x1="190.96" y1="513.4" x2="190.96" y2="515.4" stroke="#111" stroke-width="0.9"/>
<line x1="192.72" y1="513.4" x2="192.72" y2="515.4" stroke="#111" stroke-width="0.9"/>
<line x1="194.15" y1="513.4" x2="194.15" y2="515.4" stroke="#111" stroke-width="0.9"/>
<line x1="195.37" y1="513.4" x2="195.37" y2="515.4" stroke="#111" stroke-width="0.9"/>
<line x1="196.42" y1="513.4" x2="196.42" y2="515.4" stroke="#111" stroke-width="0.9"/>
<line x1="197.35" y1="513.4" x2="197.35" y2="515.4" stroke="#111" stroke-width="0.9"/>
<text x="180.65" y="526.7" font-size="7.8" text-anchor="middle" fill="#111" textLength="11.3" lengthAdjust="spacingAndGlyphs">10<tspan dy="-2.4" font-size="5.3">2</tspan></text>
<line x1="198.18" y1="513.4" x2="198.18" y2="516.2" stroke="#111" stroke-width="1"/>
<line x1="203.63" y1="513.4" x2="203.63" y2="515.4" stroke="#111" stroke-width="0.9"/>
<line x1="206.82" y1="513.4" x2="206.82" y2="515.4" stroke="#111" stroke-width="0.9"/>
<line x1="209.09" y1="513.4" x2="209.09" y2="515.4" stroke="#111" stroke-width="0.9"/>
<line x1="210.84" y1="513.4" x2="210.84" y2="515.4" stroke="#111" stroke-width="0.9"/>
<line x1="212.28" y1="513.4" x2="212.28" y2="515.4" stroke="#111" stroke-width="0.9"/>
<line x1="213.49" y1="513.4" x2="213.49" y2="515.4" stroke="#111" stroke-width="0.9"/>
<line x1="214.54" y1="513.4" x2="214.54" y2="515.4" stroke="#111" stroke-width="0.9"/>
<line x1="215.47" y1="513.4" x2="215.47" y2="515.4" stroke="#111" stroke-width="0.9"/>
<text x="198.78" y="526.7" font-size="7.8" text-anchor="middle" fill="#111" textLength="11.3" lengthAdjust="spacingAndGlyphs">10<tspan dy="-2.4" font-size="5.3">3</tspan></text>
<line x1="216.3" y1="513.4" x2="216.3" y2="516.2" stroke="#111" stroke-width="1"/>
<text x="216.9" y="526.7" font-size="7.8" text-anchor="middle" fill="#111" textLength="11.3" lengthAdjust="spacingAndGlyphs">10<tspan dy="-2.4" font-size="5.3">4</tspan></text>
<polyline points="43.5,584.7 44.31,583.84 44.92,581.59 45.6,580.4 46.01,578.53 45.98,577.02 46.67,575.97 46.98,574.9 47.25,572.63 47.3,571.7 47.86,570.41 48.21,569.1 48.7,567.4 49.9,566.5 50.07,565.78 50.02,563.51 50.48,562.76 50.39,561.67 50.76,560.64 50.58,558.39 51.18,558 51.1,556.1 51.58,555.35 52.5,553.5 52.7,552.29 52.96,550.7 52.96,549.62 53.28,548.37 53.41,546.76 53.66,545.82 54.07,544.01 54.2,543.2 56,544.9 57.3,544 57.66,546.34 58.5,547.5 58.72,548.76 58.78,549.86 58.89,551.56 59.09,552.95 59.32,554.28 59.18,555.94 59.63,557.01 59.81,557.41 59.83,559.07 59.76,560.8 60.01,562.19 60.3,563.1 60.16,565.09 60.49,565.45 60.75,566.4 60.7,568.2 60.7,570.27 60.78,571.38 61.02,571.76 61.26,574.18 61.18,574.43 61.15,576.52 61.42,577.76 61.36,578.51 61.45,580.28 61.54,581.67 61.55,582.69 61.67,584.72 62,585.6 62.23,587.58 62.34,587.95 62.39,589.7 62.71,591.08 62.56,592.97 63.04,593.53 62.93,595.44 63.26,596.52 63.56,598.57 63.64,599.38 63.7,601.1 64.3,601.79 64.39,603.4 65.08,605.06 65.54,606.38 66,607.7" fill="none" stroke="#d2143c" stroke-width="1.45" stroke-linejoin="round"/>
<polyline points="43.5,592.5 43.53,590.63 43.94,590.01 44.23,588.7 44.49,586.88 44.7,585.6 45.23,584.84 45.62,582.74 45.76,581 46.48,580.18 46.72,578.97 47.3,576.9 47.4,575.18 47.94,574.91 48.32,573.38 48.22,571.85 48.81,569.71 49,569.1 51.1,570 51.08,568.84 51.61,566.89 51.32,566.28 51.79,564.21 52,562.83 51.82,562.24 52.37,561.2 52.45,559.85 52.5,557.9 52.88,556.3 53.01,555.33 53.63,554.08 53.7,552.12 54.2,551 55.01,550.25 55.55,548.15 56,547.5 57.7,548.4 58.04,549.21 58.21,551.39 58.53,551.79 58.97,553.94 59.22,554.25 59.4,556.1 59.75,556.87 59.85,558.17 59.67,560.55 59.72,561.78 60.05,562.55 60.38,563.24 60.27,565.9 60.55,567.07 60.63,568.1 60.82,568.97 60.76,570.79 61.1,571.7 61.03,573.1 61.43,574.11 61.63,575.38 61.97,577.45 62.23,578.57 62.07,580.22 62.55,581.82 62.79,582.71 62.9,583.74 62.9,585.6 62.95,586.59 63.04,588.18 63.61,588.97 63.46,591.28 63.77,592 63.82,593.39 64.02,595.56 64.51,596.09 64.6,597.7 64.98,598.68 65.65,600.27 66.06,601.23 66.83,603.9 67.2,604.6 68.28,605.38 69.35,606.15 70.42,606.93 71.5,607.7 72.82,607.7 74.14,607.71 75.45,607.71 76.77,607.71 78.09,607.72 79.41,607.72 80.73,607.72 82.05,607.72 83.36,607.73 84.68,607.73 86,607.73 87.32,607.74 88.64,607.74 89.95,607.74 91.27,607.75 92.59,607.75 93.91,607.75 95.23,607.75 96.55,607.76 97.86,607.76 99.18,607.76 100.5,607.77 101.82,607.77 103.14,607.77 104.45,607.78 105.77,607.78 107.09,607.78 108.41,607.78 109.73,607.79 111.05,607.79 112.36,607.79 113.68,607.8 115,607.8" fill="none" stroke="#104f8e" stroke-width="1.45" stroke-linejoin="round"/>
<rect x="43" y="536.2" width="72.1" height="71.8" fill="none" stroke="#111" stroke-width="1.1"/>
<line x1="39.6" y1="608" x2="43" y2="608" stroke="#000" stroke-width="1.2"/>
<line x1="40.8" y1="604.53" x2="43" y2="604.53" stroke="#000" stroke-width="1.2"/>
<line x1="40.8" y1="601.06" x2="43" y2="601.06" stroke="#000" stroke-width="1.2"/>
<line x1="40.8" y1="597.59" x2="43" y2="597.59" stroke="#000" stroke-width="1.2"/>
<line x1="39.6" y1="594.12" x2="43" y2="594.12" stroke="#000" stroke-width="1.2"/>
<line x1="40.8" y1="590.65" x2="43" y2="590.65" stroke="#000" stroke-width="1.2"/>
<line x1="40.8" y1="587.18" x2="43" y2="587.18" stroke="#000" stroke-width="1.2"/>
<line x1="40.8" y1="583.71" x2="43" y2="583.71" stroke="#000" stroke-width="1.2"/>
<line x1="39.6" y1="580.24" x2="43" y2="580.24" stroke="#000" stroke-width="1.2"/>
<line x1="40.8" y1="576.77" x2="43" y2="576.77" stroke="#000" stroke-width="1.2"/>
<line x1="40.8" y1="573.3" x2="43" y2="573.3" stroke="#000" stroke-width="1.2"/>
<line x1="40.8" y1="569.83" x2="43" y2="569.83" stroke="#000" stroke-width="1.2"/>
<line x1="39.6" y1="566.36" x2="43" y2="566.36" stroke="#000" stroke-width="1.2"/>
<line x1="40.8" y1="562.89" x2="43" y2="562.89" stroke="#000" stroke-width="1.2"/>
<line x1="40.8" y1="559.42" x2="43" y2="559.42" stroke="#000" stroke-width="1.2"/>
<line x1="40.8" y1="555.95" x2="43" y2="555.95" stroke="#000" stroke-width="1.2"/>
<line x1="39.6" y1="552.48" x2="43" y2="552.48" stroke="#000" stroke-width="1.2"/>
<line x1="40.8" y1="549.01" x2="43" y2="549.01" stroke="#000" stroke-width="1.2"/>
<line x1="40.8" y1="545.54" x2="43" y2="545.54" stroke="#000" stroke-width="1.2"/>
<line x1="40.8" y1="542.07" x2="43" y2="542.07" stroke="#000" stroke-width="1.2"/>
<line x1="39.6" y1="538.6" x2="43" y2="538.6" stroke="#000" stroke-width="1.2"/>
<text x="37.4" y="611.03" font-size="8" text-anchor="end" font-weight="normal" font-style="normal" fill="#111" textLength="4.1" lengthAdjust="spacingAndGlyphs" >0</text>
<text x="37.4" y="597.15" font-size="8" text-anchor="end" font-weight="normal" font-style="normal" fill="#111" textLength="8.2" lengthAdjust="spacingAndGlyphs" >20</text>
<text x="37.4" y="583.27" font-size="8" text-anchor="end" font-weight="normal" font-style="normal" fill="#111" textLength="8.2" lengthAdjust="spacingAndGlyphs" >40</text>
<text x="37.4" y="569.39" font-size="8" text-anchor="end" font-weight="normal" font-style="normal" fill="#111" textLength="8.2" lengthAdjust="spacingAndGlyphs" >60</text>
<text x="37.4" y="555.51" font-size="8" text-anchor="end" font-weight="normal" font-style="normal" fill="#111" textLength="8.2" lengthAdjust="spacingAndGlyphs" >80</text>
<text x="37.4" y="541.63" font-size="8" text-anchor="end" font-weight="normal" font-style="normal" fill="#111" textLength="12.3" lengthAdjust="spacingAndGlyphs" >100</text>
<line x1="43" y1="608" x2="43" y2="610.8" stroke="#111" stroke-width="1"/>
<line x1="48.43" y1="608" x2="48.43" y2="610" stroke="#111" stroke-width="0.9"/>
<line x1="51.6" y1="608" x2="51.6" y2="610" stroke="#111" stroke-width="0.9"/>
<line x1="53.85" y1="608" x2="53.85" y2="610" stroke="#111" stroke-width="0.9"/>
<line x1="55.6" y1="608" x2="55.6" y2="610" stroke="#111" stroke-width="0.9"/>
<line x1="57.03" y1="608" x2="57.03" y2="610" stroke="#111" stroke-width="0.9"/>
<line x1="58.23" y1="608" x2="58.23" y2="610" stroke="#111" stroke-width="0.9"/>
<line x1="59.28" y1="608" x2="59.28" y2="610" stroke="#111" stroke-width="0.9"/>
<line x1="60.2" y1="608" x2="60.2" y2="610" stroke="#111" stroke-width="0.9"/>
<text x="43.6" y="621.3" font-size="7.8" text-anchor="middle" fill="#111" textLength="11.3" lengthAdjust="spacingAndGlyphs">10<tspan dy="-2.4" font-size="5.3">0</tspan></text>
<line x1="61.02" y1="608" x2="61.02" y2="610.8" stroke="#111" stroke-width="1"/>
<line x1="66.45" y1="608" x2="66.45" y2="610" stroke="#111" stroke-width="0.9"/>
<line x1="69.63" y1="608" x2="69.63" y2="610" stroke="#111" stroke-width="0.9"/>
<line x1="71.88" y1="608" x2="71.88" y2="610" stroke="#111" stroke-width="0.9"/>
<line x1="73.62" y1="608" x2="73.62" y2="610" stroke="#111" stroke-width="0.9"/>
<line x1="75.05" y1="608" x2="75.05" y2="610" stroke="#111" stroke-width="0.9"/>
<line x1="76.26" y1="608" x2="76.26" y2="610" stroke="#111" stroke-width="0.9"/>
<line x1="77.3" y1="608" x2="77.3" y2="610" stroke="#111" stroke-width="0.9"/>
<line x1="78.23" y1="608" x2="78.23" y2="610" stroke="#111" stroke-width="0.9"/>
<text x="61.62" y="621.3" font-size="7.8" text-anchor="middle" fill="#111" textLength="11.3" lengthAdjust="spacingAndGlyphs">10<tspan dy="-2.4" font-size="5.3">1</tspan></text>
<line x1="79.05" y1="608" x2="79.05" y2="610.8" stroke="#111" stroke-width="1"/>
<line x1="84.48" y1="608" x2="84.48" y2="610" stroke="#111" stroke-width="0.9"/>
<line x1="87.65" y1="608" x2="87.65" y2="610" stroke="#111" stroke-width="0.9"/>
<line x1="89.9" y1="608" x2="89.9" y2="610" stroke="#111" stroke-width="0.9"/>
<line x1="91.65" y1="608" x2="91.65" y2="610" stroke="#111" stroke-width="0.9"/>
<line x1="93.08" y1="608" x2="93.08" y2="610" stroke="#111" stroke-width="0.9"/>
<line x1="94.28" y1="608" x2="94.28" y2="610" stroke="#111" stroke-width="0.9"/>
<line x1="95.33" y1="608" x2="95.33" y2="610" stroke="#111" stroke-width="0.9"/>
<line x1="96.25" y1="608" x2="96.25" y2="610" stroke="#111" stroke-width="0.9"/>
<text x="79.65" y="621.3" font-size="7.8" text-anchor="middle" fill="#111" textLength="11.3" lengthAdjust="spacingAndGlyphs">10<tspan dy="-2.4" font-size="5.3">2</tspan></text>
<line x1="97.07" y1="608" x2="97.07" y2="610.8" stroke="#111" stroke-width="1"/>
<line x1="102.5" y1="608" x2="102.5" y2="610" stroke="#111" stroke-width="0.9"/>
<line x1="105.68" y1="608" x2="105.68" y2="610" stroke="#111" stroke-width="0.9"/>
<line x1="107.93" y1="608" x2="107.93" y2="610" stroke="#111" stroke-width="0.9"/>
<line x1="109.67" y1="608" x2="109.67" y2="610" stroke="#111" stroke-width="0.9"/>
<line x1="111.1" y1="608" x2="111.1" y2="610" stroke="#111" stroke-width="0.9"/>
<line x1="112.31" y1="608" x2="112.31" y2="610" stroke="#111" stroke-width="0.9"/>
<line x1="113.35" y1="608" x2="113.35" y2="610" stroke="#111" stroke-width="0.9"/>
<line x1="114.28" y1="608" x2="114.28" y2="610" stroke="#111" stroke-width="0.9"/>
<text x="97.67" y="621.3" font-size="7.8" text-anchor="middle" fill="#111" textLength="11.3" lengthAdjust="spacingAndGlyphs">10<tspan dy="-2.4" font-size="5.3">3</tspan></text>
<line x1="115.1" y1="608" x2="115.1" y2="610.8" stroke="#111" stroke-width="1"/>
<text x="115.7" y="621.3" font-size="7.8" text-anchor="middle" fill="#111" textLength="11.3" lengthAdjust="spacingAndGlyphs">10<tspan dy="-2.4" font-size="5.3">4</tspan></text>
<polyline points="144.5,606 144.78,605.02 144.38,603.21 144.45,602.41 144.53,600.06 144.93,599.57 144.71,597.92 144.86,596.68 144.87,595.45 144.85,593.89 145.04,592.91 145.42,590.56 145.29,589.2 145.59,588.05 145.33,586.77 145.41,586.01 145.79,584.7 145.67,583.44 145.91,582.23 145.67,580.89 145.87,579.07 146.02,577.94 146.16,576.73 146,575 146.43,573.89 147.1,571.7 147.37,570.87 147.97,568.76 148.02,567.5 148.52,566.32 148.8,564.8 149.14,563.82 149.28,562.17 149.58,559.96 149.69,559.82 149.7,557.9 151.4,556.1 152.44,554.02 153.2,552.7 153.28,551.12 153.96,550.68 154.3,549.28 154.4,547.5 155.22,549.43 155.8,551 155.97,552.74 156.26,554.28 156.15,555.2 156.2,555.8 156.34,557.14 156.67,558.7 156.6,560.49 156.75,562.24 157.22,562.54 156.96,564.94 157.36,565.89 157.5,566.32 157.5,568.3 157.77,569.83 157.88,571.49 158,571.73 158.12,574.09 158.47,574.78 158.69,577.01 158.95,577.84 158.75,579.18 159.32,580.89 159.28,581.63 159.6,583.74 159.58,584.63 160.14,585.27 160.1,587.3 160.05,588.68 160.64,590.45 160.66,591.39 161.02,592.9 161.07,594.37 161.07,595.5 161.48,596.58 161.55,597.72 161.8,599.4 162.34,600.39 163.1,601.46 163.85,603.01 164.4,604.6 165.47,605.38 166.55,606.15 167.62,606.93 168.7,607.7" fill="none" stroke="#d2143c" stroke-width="1.45" stroke-linejoin="round"/>
<polyline points="144.8,538.5 144.8,539.82 144.8,541.14 144.8,542.45 144.8,543.77 144.8,545.09 144.8,546.41 144.8,547.73 144.8,549.05 144.8,550.36 144.8,551.68 144.8,553 144.8,554.32 144.8,555.64 144.8,556.95 144.8,558.27 144.8,559.59 144.8,560.91 144.8,562.23 144.8,563.55 144.8,564.86 144.8,566.18 144.8,567.5 144.8,568.82 144.8,570.14 144.8,571.45 144.8,572.77 144.8,574.09 144.8,575.41 144.8,576.73 144.8,578.05 144.8,579.36 144.8,580.68 144.8,582 145.11,581.01 145.31,578.8 145.69,578.43 146.2,576.9 146.72,575.97 147.54,574.83 148,573.4 148.11,572.45 148.48,570.65 149.14,568.81 149.53,567.87 149.7,566.5 150.25,564.77 150.33,563.25 150.76,562.77 151.4,561.3 152.08,559.32 152.53,558.26 152.83,556.73 153.2,556.1 153.47,555.21 153.74,553.32 154.16,552.26 154.66,550.66 155.07,549.51 155.4,548.4 155.57,549.73 156.1,551.35 156.6,552.7 158.4,554.4 158.59,556.05 159.06,556.81 159.19,558.3 159.73,560.46 160.1,561.3 160.32,562.99 160.6,564.06 161.04,565.12 161.41,566.99 161.8,568.3 162.78,569.6 163.45,570.79 164.4,572.6 165.17,573.6 166.27,575.61 167,576.9 167.18,578.73 167.81,580.02 167.82,580.89 168.21,582.58 168.71,584.01 168.91,584.34 169.17,586.36 169.6,587.3 169.69,588.4 170.24,589.77 170.82,590.63 171.13,592.66 171.12,593.79 171.49,594.59 171.66,596.49 172.2,597.7 172.71,598.74 173.25,600.7 174.13,602.07 174.62,603.39 175.19,603.98 175.7,605.5 176.83,606.23 177.97,606.97 179.1,607.7 180.42,607.7 181.74,607.71 183.05,607.71 184.37,607.71 185.69,607.72 187.01,607.72 188.32,607.73 189.64,607.73 190.96,607.73 192.28,607.74 193.6,607.74 194.91,607.74 196.23,607.75 197.55,607.75 198.87,607.75 200.19,607.76 201.5,607.76 202.82,607.76 204.14,607.77 205.46,607.77 206.78,607.77 208.09,607.78 209.41,607.78 210.73,607.79 212.05,607.79 213.36,607.79 214.68,607.8 216,607.8" fill="none" stroke="#104f8e" stroke-width="1.45" stroke-linejoin="round"/>
<rect x="144" y="536.2" width="72.3" height="71.8" fill="none" stroke="#111" stroke-width="1.1"/>
<line x1="140.6" y1="608" x2="144" y2="608" stroke="#000" stroke-width="1.2"/>
<line x1="141.8" y1="604.53" x2="144" y2="604.53" stroke="#000" stroke-width="1.2"/>
<line x1="141.8" y1="601.06" x2="144" y2="601.06" stroke="#000" stroke-width="1.2"/>
<line x1="141.8" y1="597.59" x2="144" y2="597.59" stroke="#000" stroke-width="1.2"/>
<line x1="140.6" y1="594.12" x2="144" y2="594.12" stroke="#000" stroke-width="1.2"/>
<line x1="141.8" y1="590.65" x2="144" y2="590.65" stroke="#000" stroke-width="1.2"/>
<line x1="141.8" y1="587.18" x2="144" y2="587.18" stroke="#000" stroke-width="1.2"/>
<line x1="141.8" y1="583.71" x2="144" y2="583.71" stroke="#000" stroke-width="1.2"/>
<line x1="140.6" y1="580.24" x2="144" y2="580.24" stroke="#000" stroke-width="1.2"/>
<line x1="141.8" y1="576.77" x2="144" y2="576.77" stroke="#000" stroke-width="1.2"/>
<line x1="141.8" y1="573.3" x2="144" y2="573.3" stroke="#000" stroke-width="1.2"/>
<line x1="141.8" y1="569.83" x2="144" y2="569.83" stroke="#000" stroke-width="1.2"/>
<line x1="140.6" y1="566.36" x2="144" y2="566.36" stroke="#000" stroke-width="1.2"/>
<line x1="141.8" y1="562.89" x2="144" y2="562.89" stroke="#000" stroke-width="1.2"/>
<line x1="141.8" y1="559.42" x2="144" y2="559.42" stroke="#000" stroke-width="1.2"/>
<line x1="141.8" y1="555.95" x2="144" y2="555.95" stroke="#000" stroke-width="1.2"/>
<line x1="140.6" y1="552.48" x2="144" y2="552.48" stroke="#000" stroke-width="1.2"/>
<line x1="141.8" y1="549.01" x2="144" y2="549.01" stroke="#000" stroke-width="1.2"/>
<line x1="141.8" y1="545.54" x2="144" y2="545.54" stroke="#000" stroke-width="1.2"/>
<line x1="141.8" y1="542.07" x2="144" y2="542.07" stroke="#000" stroke-width="1.2"/>
<line x1="140.6" y1="538.6" x2="144" y2="538.6" stroke="#000" stroke-width="1.2"/>
<text x="138.4" y="611.03" font-size="8" text-anchor="end" font-weight="normal" font-style="normal" fill="#111" textLength="4.1" lengthAdjust="spacingAndGlyphs" >0</text>
<text x="138.4" y="597.15" font-size="8" text-anchor="end" font-weight="normal" font-style="normal" fill="#111" textLength="8.2" lengthAdjust="spacingAndGlyphs" >20</text>
<text x="138.4" y="583.27" font-size="8" text-anchor="end" font-weight="normal" font-style="normal" fill="#111" textLength="8.2" lengthAdjust="spacingAndGlyphs" >40</text>
<text x="138.4" y="569.39" font-size="8" text-anchor="end" font-weight="normal" font-style="normal" fill="#111" textLength="8.2" lengthAdjust="spacingAndGlyphs" >60</text>
<text x="138.4" y="555.51" font-size="8" text-anchor="end" font-weight="normal" font-style="normal" fill="#111" textLength="8.2" lengthAdjust="spacingAndGlyphs" >80</text>
<text x="138.4" y="541.63" font-size="8" text-anchor="end" font-weight="normal" font-style="normal" fill="#111" textLength="12.3" lengthAdjust="spacingAndGlyphs" >100</text>
<line x1="144" y1="608" x2="144" y2="610.8" stroke="#111" stroke-width="1"/>
<line x1="149.44" y1="608" x2="149.44" y2="610" stroke="#111" stroke-width="0.9"/>
<line x1="152.62" y1="608" x2="152.62" y2="610" stroke="#111" stroke-width="0.9"/>
<line x1="154.88" y1="608" x2="154.88" y2="610" stroke="#111" stroke-width="0.9"/>
<line x1="156.63" y1="608" x2="156.63" y2="610" stroke="#111" stroke-width="0.9"/>
<line x1="158.07" y1="608" x2="158.07" y2="610" stroke="#111" stroke-width="0.9"/>
<line x1="159.28" y1="608" x2="159.28" y2="610" stroke="#111" stroke-width="0.9"/>
<line x1="160.32" y1="608" x2="160.32" y2="610" stroke="#111" stroke-width="0.9"/>
<line x1="161.25" y1="608" x2="161.25" y2="610" stroke="#111" stroke-width="0.9"/>
<text x="144.6" y="621.3" font-size="7.8" text-anchor="middle" fill="#111" textLength="11.3" lengthAdjust="spacingAndGlyphs">10<tspan dy="-2.4" font-size="5.3">0</tspan></text>
<line x1="162.07" y1="608" x2="162.07" y2="610.8" stroke="#111" stroke-width="1"/>
<line x1="167.52" y1="608" x2="167.52" y2="610" stroke="#111" stroke-width="0.9"/>
<line x1="170.7" y1="608" x2="170.7" y2="610" stroke="#111" stroke-width="0.9"/>
<line x1="172.96" y1="608" x2="172.96" y2="610" stroke="#111" stroke-width="0.9"/>
<line x1="174.71" y1="608" x2="174.71" y2="610" stroke="#111" stroke-width="0.9"/>
<line x1="176.14" y1="608" x2="176.14" y2="610" stroke="#111" stroke-width="0.9"/>
<line x1="177.35" y1="608" x2="177.35" y2="610" stroke="#111" stroke-width="0.9"/>
<line x1="178.4" y1="608" x2="178.4" y2="610" stroke="#111" stroke-width="0.9"/>
<line x1="179.32" y1="608" x2="179.32" y2="610" stroke="#111" stroke-width="0.9"/>
<text x="162.67" y="621.3" font-size="7.8" text-anchor="middle" fill="#111" textLength="11.3" lengthAdjust="spacingAndGlyphs">10<tspan dy="-2.4" font-size="5.3">1</tspan></text>
<line x1="180.15" y1="608" x2="180.15" y2="610.8" stroke="#111" stroke-width="1"/>
<line x1="185.59" y1="608" x2="185.59" y2="610" stroke="#111" stroke-width="0.9"/>
<line x1="188.77" y1="608" x2="188.77" y2="610" stroke="#111" stroke-width="0.9"/>
<line x1="191.03" y1="608" x2="191.03" y2="610" stroke="#111" stroke-width="0.9"/>
<line x1="192.78" y1="608" x2="192.78" y2="610" stroke="#111" stroke-width="0.9"/>
<line x1="194.22" y1="608" x2="194.22" y2="610" stroke="#111" stroke-width="0.9"/>
<line x1="195.43" y1="608" x2="195.43" y2="610" stroke="#111" stroke-width="0.9"/>
<line x1="196.47" y1="608" x2="196.47" y2="610" stroke="#111" stroke-width="0.9"/>
<line x1="197.4" y1="608" x2="197.4" y2="610" stroke="#111" stroke-width="0.9"/>
<text x="180.75" y="621.3" font-size="7.8" text-anchor="middle" fill="#111" textLength="11.3" lengthAdjust="spacingAndGlyphs">10<tspan dy="-2.4" font-size="5.3">2</tspan></text>
<line x1="198.23" y1="608" x2="198.23" y2="610.8" stroke="#111" stroke-width="1"/>
<line x1="203.67" y1="608" x2="203.67" y2="610" stroke="#111" stroke-width="0.9"/>
<line x1="206.85" y1="608" x2="206.85" y2="610" stroke="#111" stroke-width="0.9"/>
<line x1="209.11" y1="608" x2="209.11" y2="610" stroke="#111" stroke-width="0.9"/>
<line x1="210.86" y1="608" x2="210.86" y2="610" stroke="#111" stroke-width="0.9"/>
<line x1="212.29" y1="608" x2="212.29" y2="610" stroke="#111" stroke-width="0.9"/>
<line x1="213.5" y1="608" x2="213.5" y2="610" stroke="#111" stroke-width="0.9"/>
<line x1="214.55" y1="608" x2="214.55" y2="610" stroke="#111" stroke-width="0.9"/>
<line x1="215.47" y1="608" x2="215.47" y2="610" stroke="#111" stroke-width="0.9"/>
<text x="198.83" y="621.3" font-size="7.8" text-anchor="middle" fill="#111" textLength="11.3" lengthAdjust="spacingAndGlyphs">10<tspan dy="-2.4" font-size="5.3">3</tspan></text>
<line x1="216.3" y1="608" x2="216.3" y2="610.8" stroke="#111" stroke-width="1"/>
<text x="216.9" y="621.3" font-size="7.8" text-anchor="middle" fill="#111" textLength="11.3" lengthAdjust="spacingAndGlyphs">10<tspan dy="-2.4" font-size="5.3">4</tspan></text>
<line x1="20.4" y1="445.2" x2="20.4" y2="608" stroke="#111" stroke-width="1"/>
<path d="M20.4 442.2L22.2 446.4L18.6 446.4Z" fill="#111"/>
<text x="12.85" y="528.33" font-size="9.8" text-anchor="middle" font-weight="normal" font-style="normal" fill="#111" textLength="19.6" lengthAdjust="spacingAndGlyphs" transform="rotate(-90 12.85 524.9)">Max%</text>
<line x1="44.5" y1="626.8" x2="112.6" y2="626.8" stroke="#111" stroke-width="1"/>
<path d="M115.6 626.8L111.2 624.9L111.2 628.7Z" fill="#111"/>
<line x1="143.8" y1="626.3" x2="213.5" y2="626.3" stroke="#111" stroke-width="1"/>
<path d="M216.5 626.3L212.1 624.4L212.1 628.2Z" fill="#111"/>
<text x="80.1" y="637.3" font-size="9.6" text-anchor="middle" font-weight="normal" font-style="normal" fill="#111" textLength="23" lengthAdjust="spacingAndGlyphs" >CD62P</text>
<text x="180.4" y="637.4" font-size="9.6" text-anchor="middle" font-weight="normal" font-style="normal" fill="#111" textLength="19.2" lengthAdjust="spacingAndGlyphs" >Jon/A</text>
<g transform="rotate(90 225.5 477.5)">
<text x="225.5" y="480.34" font-size="8.6" text-anchor="middle" font-style="italic" fill="#111" textLength="25.4" lengthAdjust="spacingAndGlyphs" ><tspan>Il1rl1</tspan><tspan dy="-2.58" font-size="6.19" font-style="normal">fl/fl</tspan></text>
</g>
<g transform="rotate(90 224.8 571.9)">
<text x="224.8" y="574.74" font-size="8.6" text-anchor="middle" font-style="italic" fill="#111" textLength="58.5" lengthAdjust="spacingAndGlyphs" ><tspan>Chga</tspan><tspan dy="-2.58" font-size="6.19" font-style="normal">creER</tspan><tspan dy="2.58" font-size="8.6">Il1rl1</tspan><tspan dy="-2.58" font-size="6.19" font-style="normal">fl/fl</tspan></text>
</g>
<text x="322" y="434.8" font-size="11.2" text-anchor="start" font-weight="bold" font-style="normal" fill="#000" >J</text>
<rect x="396.15" y="446.75" width="2.7" height="2.7" fill="#cf0a35"/>
<text x="402" y="451.7" font-size="7.6" text-anchor="start" font-style="italic" fill="#111" textLength="23.8" lengthAdjust="spacingAndGlyphs" ><tspan>Il1rl1</tspan><tspan dy="-1.9" font-size="5.17" font-style="normal">fl/fl</tspan></text>
<path d="M441.3 446.2L443.2 448.1L441.3 450L439.4 448.1Z" fill="#0f4c8c"/>
<text x="445.6" y="451.8" font-size="7.6" text-anchor="start" font-style="italic" fill="#111" textLength="55.2" lengthAdjust="spacingAndGlyphs" ><tspan>Chga</tspan><tspan dy="-1.9" font-size="5.17" font-style="normal">creER</tspan><tspan dy="1.9" font-size="7.6">Il1rl1</tspan><tspan dy="-1.9" font-size="5.17" font-style="normal">fl/fl</tspan></text>
<text x="382.5" y="464.9" font-size="9.2" text-anchor="middle" font-weight="normal" font-style="normal" fill="#111" textLength="26.6" lengthAdjust="spacingAndGlyphs" >CD62P</text>
<rect x="361.3" y="521.71" width="7.2" height="2.89" fill="#e08594"/>
<rect x="372.9" y="502.5" width="7.7" height="22.1" fill="#e08594"/>
<rect x="395" y="521.71" width="6.7" height="2.89" fill="#83a6c5"/>
<rect x="406" y="511.2" width="7.3" height="13.4" fill="#83a6c5"/>
<circle cx="363.68" cy="520.36" r="1.7" fill="#cf0a35"/>
<circle cx="364.48" cy="520.54" r="1.7" fill="#cf0a35"/>
<circle cx="362.83" cy="521.41" r="1.7" fill="#cf0a35"/>
<circle cx="367.09" cy="522.8" r="1.7" fill="#cf0a35"/>
<circle cx="366.33" cy="520.78" r="1.7" fill="#cf0a35"/>
<circle cx="365.18" cy="520.97" r="1.7" fill="#cf0a35"/>
<circle cx="363.36" cy="520.37" r="1.7" fill="#cf0a35"/>
<circle cx="363.57" cy="523.25" r="1.7" fill="#cf0a35"/>
<circle cx="366.64" cy="522.82" r="1.7" fill="#cf0a35"/>
<circle cx="376.7" cy="491.9" r="1.7" fill="#cf0a35"/>
<circle cx="373.8" cy="494.8" r="1.7" fill="#cf0a35"/>
<circle cx="379.6" cy="495.8" r="1.7" fill="#cf0a35"/>
<circle cx="374.8" cy="497.7" r="1.7" fill="#cf0a35"/>
<circle cx="377.7" cy="499.6" r="1.7" fill="#cf0a35"/>
<circle cx="379.6" cy="501.5" r="1.7" fill="#cf0a35"/>
<circle cx="374.8" cy="502.5" r="1.7" fill="#cf0a35"/>
<circle cx="376.7" cy="505.4" r="1.7" fill="#cf0a35"/>
<circle cx="378.7" cy="507.3" r="1.7" fill="#cf0a35"/>
<circle cx="375.8" cy="509.2" r="1.7" fill="#cf0a35"/>
<circle cx="377.7" cy="515" r="1.7" fill="#cf0a35"/>
<path d="M399.11 520.4L400.81 522.1L399.11 523.8L397.41 522.1Z" fill="#0f4c8c"/>
<path d="M399.98 521.1L401.68 522.8L399.98 524.5L398.28 522.8Z" fill="#0f4c8c"/>
<path d="M399.7 521.03L401.4 522.73L399.7 524.43L398 522.73Z" fill="#0f4c8c"/>
<path d="M396.15 519.43L397.85 521.13L396.15 522.83L394.45 521.13Z" fill="#0f4c8c"/>
<path d="M400.72 520.07L402.42 521.77L400.72 523.47L399.02 521.77Z" fill="#0f4c8c"/>
<path d="M400.5 518.2L402.2 519.9L400.5 521.6L398.8 519.9Z" fill="#0f4c8c"/>
<path d="M398.35 518.66L400.05 520.36L398.35 522.06L396.65 520.36Z" fill="#0f4c8c"/>
<path d="M398.72 519.81L400.42 521.51L398.72 523.21L397.02 521.51Z" fill="#0f4c8c"/>
<path d="M396.07 518.56L397.77 520.26L396.07 521.96L394.37 520.26Z" fill="#0f4c8c"/>
<path d="M408.8 499.4L410.9 501.5L408.8 503.6L406.7 501.5Z" fill="#0f4c8c"/>
<path d="M410.4 504.2L412.5 506.3L410.4 508.4L408.3 506.3Z" fill="#0f4c8c"/>
<path d="M407.5 505.2L409.6 507.3L407.5 509.4L405.4 507.3Z" fill="#0f4c8c"/>
<path d="M410.4 507.1L412.5 509.2L410.4 511.3L408.3 509.2Z" fill="#0f4c8c"/>
<path d="M408.5 509.1L410.6 511.2L408.5 513.3L406.4 511.2Z" fill="#0f4c8c"/>
<path d="M411.3 510L413.4 512.1L411.3 514.2L409.2 512.1Z" fill="#0f4c8c"/>
<path d="M407.5 511.9L409.6 514L407.5 516.1L405.4 514Z" fill="#0f4c8c"/>
<path d="M410.4 512.9L412.5 515L410.4 517.1L408.3 515Z" fill="#0f4c8c"/>
<path d="M409.4 516.4L411.5 518.5L409.4 520.6L407.3 518.5Z" fill="#0f4c8c"/>
<line x1="376.8" y1="491.9" x2="376.8" y2="504.4" stroke="#222" stroke-width="0.9"/>
<line x1="374.2" y1="491.9" x2="379.4" y2="491.9" stroke="#222" stroke-width="0.9"/>
<line x1="374.2" y1="504.4" x2="379.4" y2="504.4" stroke="#222" stroke-width="0.9"/>
<line x1="374.2" y1="502.5" x2="379.4" y2="502.5" stroke="#222" stroke-width="0.9"/>
<line x1="409.7" y1="507.5" x2="409.7" y2="514.5" stroke="#222" stroke-width="0.9"/>
<line x1="407.5" y1="507.5" x2="411.9" y2="507.5" stroke="#222" stroke-width="0.9"/>
<line x1="407.5" y1="514.5" x2="411.9" y2="514.5" stroke="#222" stroke-width="0.9"/>
<line x1="407.1" y1="511.2" x2="412.3" y2="511.2" stroke="#222" stroke-width="0.9"/>
<line x1="356.5" y1="471.7" x2="356.5" y2="525.2" stroke="#1a1a1a" stroke-width="1.2"/>
<line x1="352.9" y1="524.6" x2="356.5" y2="524.6" stroke="#1a1a1a" stroke-width="1.1"/>
<text x="350.9" y="527.89" font-size="8.3" text-anchor="end" font-weight="normal" font-style="normal" fill="#111" textLength="4.05" lengthAdjust="spacingAndGlyphs" >0</text>
<line x1="352.9" y1="510.17" x2="356.5" y2="510.17" stroke="#1a1a1a" stroke-width="1.1"/>
<text x="350.9" y="513.46" font-size="8.3" text-anchor="end" font-weight="normal" font-style="normal" fill="#111" textLength="8.1" lengthAdjust="spacingAndGlyphs" >10</text>
<line x1="352.9" y1="495.74" x2="356.5" y2="495.74" stroke="#1a1a1a" stroke-width="1.1"/>
<text x="350.9" y="499.03" font-size="8.3" text-anchor="end" font-weight="normal" font-style="normal" fill="#111" textLength="8.1" lengthAdjust="spacingAndGlyphs" >20</text>
<line x1="352.9" y1="481.31" x2="356.5" y2="481.31" stroke="#1a1a1a" stroke-width="1.1"/>
<text x="350.9" y="484.6" font-size="8.3" text-anchor="end" font-weight="normal" font-style="normal" fill="#111" textLength="8.1" lengthAdjust="spacingAndGlyphs" >30</text>
<line x1="354.2" y1="524.6" x2="417.1" y2="524.6" stroke="#1a1a1a" stroke-width="1.2"/>
<line x1="364.9" y1="524.6" x2="364.9" y2="527.8" stroke="#444" stroke-width="0.9"/>
<line x1="376.8" y1="524.6" x2="376.8" y2="527.8" stroke="#444" stroke-width="0.9"/>
<line x1="398.4" y1="524.6" x2="398.4" y2="527.8" stroke="#444" stroke-width="0.9"/>
<line x1="409.7" y1="524.6" x2="409.7" y2="527.8" stroke="#444" stroke-width="0.9"/>
<line x1="362.3" y1="488.5" x2="377.3" y2="488.5" stroke="#8c8c8c" stroke-width="1.4"/>
<text x="369.8" y="489.9" font-size="9" text-anchor="middle" font-weight="bold" font-style="normal" fill="#111" >***</text>
<line x1="372.3" y1="480" x2="411.9" y2="480" stroke="#444" stroke-width="1"/>
<text x="392.1" y="481.4" font-size="9" text-anchor="middle" font-weight="bold" font-style="normal" fill="#111" >*</text>
<text x="333.8" y="506.22" font-size="9.2" text-anchor="middle" font-weight="normal" font-style="normal" fill="#111" textLength="12" lengthAdjust="spacingAndGlyphs" transform="rotate(-90 333.8 503)">MFI</text>
<text x="364.6" y="536.3" font-size="9.3" text-anchor="middle" font-weight="normal" font-style="normal" fill="#111" >–</text>
<text x="376.7" y="536.3" font-size="9.3" text-anchor="middle" font-weight="normal" font-style="normal" fill="#111" >+</text>
<text x="398.5" y="536.3" font-size="9.3" text-anchor="middle" font-weight="normal" font-style="normal" fill="#111" >–</text>
<text x="409" y="536.3" font-size="9.3" text-anchor="middle" font-weight="normal" font-style="normal" fill="#111" >+</text>
<text x="323.5" y="535.2" font-size="8.4" text-anchor="start" font-weight="normal" font-style="normal" fill="#111" textLength="33.3" lengthAdjust="spacingAndGlyphs" >Thrombin</text>
<text x="475" y="464.8" font-size="9" text-anchor="middle" font-weight="normal" font-style="normal" fill="#111" textLength="22.9" lengthAdjust="spacingAndGlyphs" >Jon/A</text>
<rect x="457.5" y="521.34" width="6.3" height="2.86" fill="#e08594"/>
<rect x="468" y="498.7" width="7.8" height="25.5" fill="#e08594"/>
<rect x="488.3" y="520.62" width="6.3" height="3.58" fill="#83a6c5"/>
<rect x="499.2" y="507" width="7.3" height="17.2" fill="#83a6c5"/>
<circle cx="462.07" cy="522.38" r="1.7" fill="#cf0a35"/>
<circle cx="460.68" cy="520.42" r="1.7" fill="#cf0a35"/>
<circle cx="458.5" cy="521.82" r="1.7" fill="#cf0a35"/>
<circle cx="460.62" cy="522.16" r="1.7" fill="#cf0a35"/>
<circle cx="460.18" cy="522.2" r="1.7" fill="#cf0a35"/>
<circle cx="459.73" cy="522.31" r="1.7" fill="#cf0a35"/>
<circle cx="461.78" cy="520.95" r="1.7" fill="#cf0a35"/>
<circle cx="460.92" cy="521.89" r="1.7" fill="#cf0a35"/>
<circle cx="459.37" cy="521.44" r="1.7" fill="#cf0a35"/>
<circle cx="474.2" cy="489" r="1.7" fill="#cf0a35"/>
<circle cx="470.4" cy="491" r="1.7" fill="#cf0a35"/>
<circle cx="472.3" cy="492.9" r="1.7" fill="#cf0a35"/>
<circle cx="469" cy="495.8" r="1.7" fill="#cf0a35"/>
<circle cx="473.8" cy="496.7" r="1.7" fill="#cf0a35"/>
<circle cx="471" cy="498.7" r="1.7" fill="#cf0a35"/>
<circle cx="472.9" cy="501.5" r="1.7" fill="#cf0a35"/>
<circle cx="469.6" cy="504.4" r="1.7" fill="#cf0a35"/>
<circle cx="471.9" cy="506.3" r="1.7" fill="#cf0a35"/>
<circle cx="470.4" cy="510.2" r="1.7" fill="#cf0a35"/>
<path d="M490.82 517.9L492.52 519.6L490.82 521.3L489.12 519.6Z" fill="#0f4c8c"/>
<path d="M492.36 517.59L494.06 519.29L492.36 520.99L490.66 519.29Z" fill="#0f4c8c"/>
<path d="M491.82 518.76L493.52 520.46L491.82 522.16L490.12 520.46Z" fill="#0f4c8c"/>
<path d="M489.57 519.33L491.27 521.03L489.57 522.73L487.87 521.03Z" fill="#0f4c8c"/>
<path d="M489.48 519.03L491.18 520.73L489.48 522.43L487.78 520.73Z" fill="#0f4c8c"/>
<path d="M489.63 517.66L491.33 519.36L489.63 521.06L487.93 519.36Z" fill="#0f4c8c"/>
<path d="M491.3 520.61L493 522.31L491.3 524.01L489.6 522.31Z" fill="#0f4c8c"/>
<path d="M489.88 518.19L491.58 519.89L489.88 521.59L488.18 519.89Z" fill="#0f4c8c"/>
<path d="M492.25 521.09L493.95 522.79L492.25 524.49L490.55 522.79Z" fill="#0f4c8c"/>
<path d="M502.7 500.4L504.8 502.5L502.7 504.6L500.6 502.5Z" fill="#0f4c8c"/>
<path d="M500.8 503.3L502.9 505.4L500.8 507.5L498.7 505.4Z" fill="#0f4c8c"/>
<path d="M504.6 504.2L506.7 506.3L504.6 508.4L502.5 506.3Z" fill="#0f4c8c"/>
<path d="M501.7 506.2L503.8 508.3L501.7 510.4L499.6 508.3Z" fill="#0f4c8c"/>
<path d="M503.7 507.1L505.8 509.2L503.7 511.3L501.6 509.2Z" fill="#0f4c8c"/>
<path d="M500.8 510L502.9 512.1L500.8 514.2L498.7 512.1Z" fill="#0f4c8c"/>
<path d="M504.6 511L506.7 513.1L504.6 515.2L502.5 513.1Z" fill="#0f4c8c"/>
<path d="M502.7 511.9L504.8 514L502.7 516.1L500.6 514Z" fill="#0f4c8c"/>
<line x1="471.9" y1="492.9" x2="471.9" y2="505.4" stroke="#555" stroke-width="0.9"/>
<line x1="469.3" y1="492.9" x2="474.5" y2="492.9" stroke="#555" stroke-width="0.9"/>
<line x1="469.3" y1="505.4" x2="474.5" y2="505.4" stroke="#555" stroke-width="0.9"/>
<line x1="469.3" y1="498.7" x2="474.5" y2="498.7" stroke="#222" stroke-width="0.9"/>
<line x1="502.8" y1="505" x2="502.8" y2="509.6" stroke="#222" stroke-width="0.9"/>
<line x1="500.6" y1="505" x2="505" y2="505" stroke="#222" stroke-width="0.9"/>
<line x1="500.6" y1="509.6" x2="505" y2="509.6" stroke="#222" stroke-width="0.9"/>
<line x1="500.2" y1="507" x2="505.4" y2="507" stroke="#222" stroke-width="0.9"/>
<line x1="452.7" y1="471.2" x2="452.7" y2="524.8" stroke="#1a1a1a" stroke-width="1.2"/>
<line x1="449.1" y1="524.2" x2="452.7" y2="524.2" stroke="#1a1a1a" stroke-width="1.1"/>
<text x="447.3" y="527.49" font-size="8.3" text-anchor="end" font-weight="normal" font-style="normal" fill="#111" textLength="4.05" lengthAdjust="spacingAndGlyphs" >0</text>
<line x1="449.1" y1="509.9" x2="452.7" y2="509.9" stroke="#1a1a1a" stroke-width="1.1"/>
<text x="447.3" y="513.19" font-size="8.3" text-anchor="end" font-weight="normal" font-style="normal" fill="#111" textLength="8.1" lengthAdjust="spacingAndGlyphs" >10</text>
<line x1="449.1" y1="495.6" x2="452.7" y2="495.6" stroke="#1a1a1a" stroke-width="1.1"/>
<text x="447.3" y="498.89" font-size="8.3" text-anchor="end" font-weight="normal" font-style="normal" fill="#111" textLength="8.1" lengthAdjust="spacingAndGlyphs" >20</text>
<line x1="449.1" y1="481.3" x2="452.7" y2="481.3" stroke="#1a1a1a" stroke-width="1.1"/>
<text x="447.3" y="484.59" font-size="8.3" text-anchor="end" font-weight="normal" font-style="normal" fill="#111" textLength="8.1" lengthAdjust="spacingAndGlyphs" >30</text>
<line x1="450" y1="524.2" x2="513.3" y2="524.2" stroke="#1a1a1a" stroke-width="1.2"/>
<line x1="460.6" y1="524.2" x2="460.6" y2="527.4" stroke="#444" stroke-width="0.9"/>
<line x1="471.9" y1="524.2" x2="471.9" y2="527.4" stroke="#444" stroke-width="0.9"/>
<line x1="491.4" y1="524.2" x2="491.4" y2="527.4" stroke="#444" stroke-width="0.9"/>
<line x1="502.8" y1="524.2" x2="502.8" y2="527.4" stroke="#444" stroke-width="0.9"/>
<line x1="457.5" y1="486.2" x2="471" y2="486.2" stroke="#8c8c8c" stroke-width="1.4"/>
<text x="464.25" y="487.6" font-size="9" text-anchor="middle" font-weight="bold" font-style="normal" fill="#111" >***</text>
<line x1="467.1" y1="477.1" x2="504" y2="477.1" stroke="#444" stroke-width="1"/>
<text x="485.55" y="478.5" font-size="9" text-anchor="middle" font-weight="bold" font-style="normal" fill="#111" >**</text>
<text x="460.4" y="536.7" font-size="9.3" text-anchor="middle" font-weight="normal" font-style="normal" fill="#111" >–</text>
<text x="471.5" y="536.7" font-size="9.3" text-anchor="middle" font-weight="normal" font-style="normal" fill="#111" >+</text>
<text x="491.2" y="536.7" font-size="9.3" text-anchor="middle" font-weight="normal" font-style="normal" fill="#111" >–</text>
<text x="502.7" y="536.7" font-size="9.3" text-anchor="middle" font-weight="normal" font-style="normal" fill="#111" >+</text>
<rect x="0.5" y="0.5" width="519" height="644" fill="none" stroke="#000" stroke-width="1.2"/>
</svg>
</body></html>
